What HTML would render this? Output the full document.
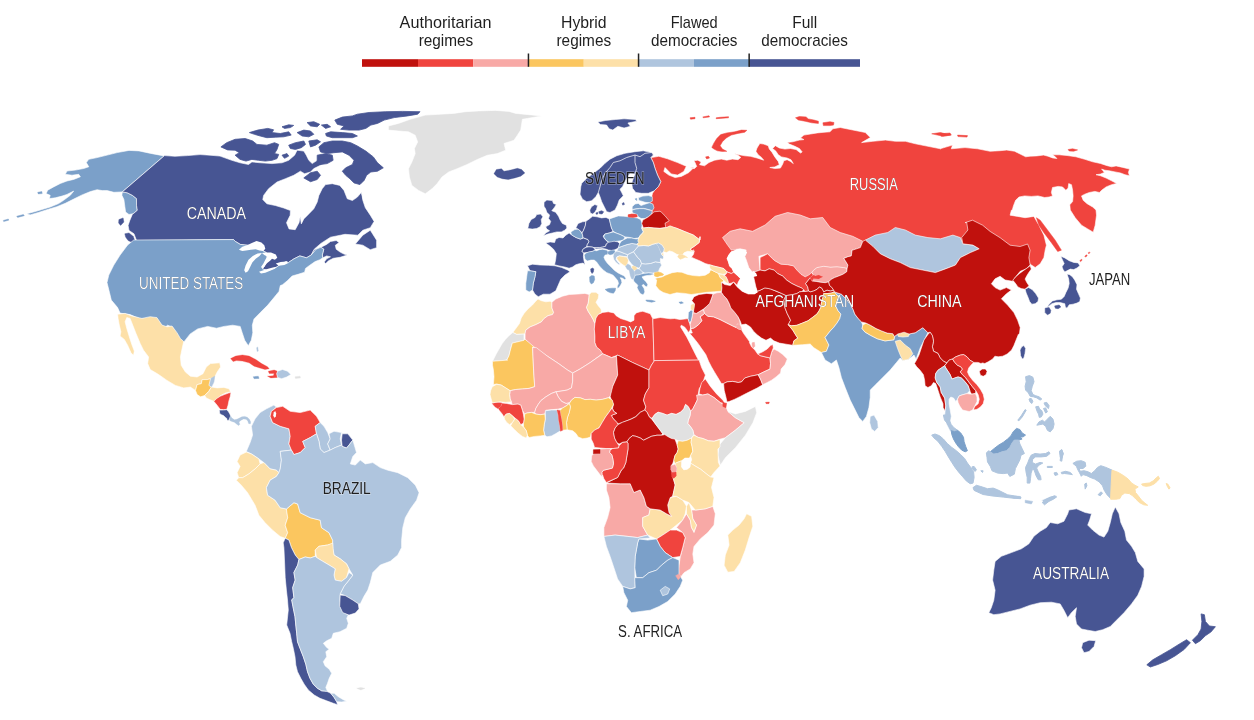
<!DOCTYPE html>
<html lang="en"><head><meta charset="utf-8"><title>Democracy Index map</title>
<style>
html,body{margin:0;padding:0;background:#fff;}
body{width:1254px;height:720px;overflow:hidden;font-family:"Liberation Sans",sans-serif;}
svg{display:block}
.lg text{font-family:"Liberation Sans",sans-serif;font-size:17px;fill:#1f1f1f}
.lw text{font-family:"Liberation Sans",sans-serif;font-size:16px;fill:#fff}.lw{filter:drop-shadow(.4px .7px .7px rgba(0,0,0,.75))}
.lb text{font-family:"Liberation Sans",sans-serif;font-size:16px;fill:#1f1f1f;paint-order:stroke;stroke:#fff;stroke-opacity:.35;stroke-width:1.4px}
</style></head><body>
<svg width="1254" height="720" viewBox="0 0 1254 720">
<rect width="1254" height="720" fill="#fff"/>

<g class="c" stroke="#fff" stroke-width=".6" stroke-linejoin="round">
<path fill="#f0443e" d="M651.7,152.5L653.3,155L650.8,157.5L653.3,162.5L655,168.3L657.5,175L660.8,181.7L658.3,186.7L654.2,190.8L652.5,193.3L651.7,196.7L650,198.3L649.2,203.3L650,207.5L648.3,213.3L656.7,213.3L661.7,214.2L663.3,216.7L666.7,220.8L663.3,223.3L664.2,228.3L670,226.7L676.7,228.3L685,231.7L693.3,235L700,240L700,236.7L699.2,242.5L695,245.8L690,249.2L693.3,251.7L694.3,250.9L693.5,254.3L691.4,257.2L695.2,258.9L700.2,261L705.2,263.5L709.4,264.7L713.6,266L718.6,267.2L723.7,268.5L727,271.9L731.2,273.5L733.7,272.3L732,268.5L729.5,266L728.3,261.8L727,258.5L728.7,255.1L731.2,251.8L735.4,250.5L740.1,243.8L790.2,237.6L840.2,250.1L890.3,250.1L940.4,255.1L977.9,237.6L990.1,240.2L1025.1,260.2L1031.4,265L1035.2,267.5L1040.2,263.8L1043.9,257.5L1045.2,250L1046.4,245.2L1043.9,235.2L1038.9,225.2L1033.9,216.4L1025.1,217.7L1017.6,216.4L1010.1,215.2L1011.4,210.2L1012.3,210L1013.4,205.9L1015.6,200.3L1019,197L1024.6,195.9L1031.3,196.4L1038,195.9L1044.7,197.5L1049.1,197L1052.5,195.9L1051.4,192.5L1052.5,187.5L1058.1,186.4L1062.5,186.9L1065.9,190.3L1068.1,188.1L1068.7,183.6L1071.5,184.7L1072.6,190.3L1073.1,195.9L1072.6,201.5L1069.8,204.8L1070.3,210L1075.2,217.7L1081.5,225.2L1087.7,228.9L1093.2,232.2L1095.2,225.2L1096.5,215.2L1096,210L1092.7,207L1087.1,203.7L1083.2,200.3L1081.5,195.9L1084.8,194.2L1089.3,192.5L1094.9,191.4L1099.4,192.5L1101.6,190.3L1106.1,186.9L1111.6,184.7L1116.7,183.4L1111.6,180.8L1106.1,178L1100.5,175.8L1096,174.7L1100.5,174.1L1104.4,172.4L1101.6,169.1L1104.9,170.2L1109.4,170.8L1115,171.9L1120.6,173L1125,174.7L1129.5,175.8L1128.4,172.4L1129.5,169.1L1122.8,167.4L1116.1,165.9L1111.6,166.8L1107.2,165.7L1100.5,163.5L1092.7,161.8L1084.8,159.3L1075.9,156.8L1067,155.5L1059.2,154.8L1052.5,154.8L1054.7,156.2L1056.9,158.5L1052.5,157.9L1048,156.2L1043.5,155.1L1036.8,155.9L1030.1,156.2L1025.7,156.8L1020.1,154L1014.5,151.2L1006.7,150.1L1000,150.7L990.1,151.3L977.6,148.8L965,147.6L951.3,148.8L952.5,145.1L940,148.8L940.5,148.8L927.9,146.3L915.4,143.8L905.4,141.3L895.4,141.3L885.4,140.1L872.8,141.3L861.6,142.6L870.3,137.6L865.3,132.5L852.8,130L840.3,127.5L832.8,128.8L830,131.8L824,132.3L817.3,132.9L810.6,134L803.9,135.1L800.5,137.9L803.9,139.6L799.4,140.1L792.7,141.8L787.1,142.4L789.4,144.1L794.9,146.3L799.4,148.5L802.2,151.9L800.5,153L796.1,149.6L790.5,148.5L784.9,149.1L779.3,148L775.4,145.7L772.6,148.5L776,151.3L778.2,154.7L781.5,156.9L787.1,158L791,159.7L793.3,163.6L790.5,161.4L787.1,159.7L783.8,160.8L782.7,164.1L780.4,168.1L774.8,168.6L769.8,167.5L774.8,166.9L779.3,164.7L778.2,161.4L774.8,156.9L772.1,152.4L769.3,149.1L768.2,145.7L763.7,144.1L759.8,143.5L757,148L755.9,151.3L758.1,154.7L761.5,157.4L763.7,160.2L757,158L750.3,156.3L744.7,155.8L739.1,154.7L734.1,153.5L738,155.2L740.8,157.4L738,159.7L732.4,159.1L726.8,160.2L721.3,159.1L714.6,160.2L709,162.5L704.5,165.8L699.5,164.7L701.2,161.9L697.8,160.2L693.9,160.8L695,162.5L696.7,166.4L694.5,168.6L690,168.1L693.8,167.6L688.8,172.6L681.3,176.4L675.1,177.6L668.8,175.1L663.8,171.4L665,167.6L671.3,173.9L677.6,175.1L683.8,171.4L686.3,166.3L677.6,162.6L667.5,158.8L658.8,156.3L651.3,157.6Z"/>
<path fill="#f0443e" stroke="#f0443e" stroke-width="0.5" d="M711.8,147.4L714,142.9L716.8,138.5L720.7,134.6L726.8,132.9L734.7,131.8L741.4,130.1L746.9,130.3L744.7,132.3L738,133.4L731.3,135.1L726.3,137.9L722.4,141.8L720.1,145.7L722.4,149.1L726.8,151.3L722.4,151.5L717.4,150.8L714,149.1Z"/>
<path fill="#f0443e" stroke="#f0443e" stroke-width="0.5" d="M795.5,117.8L799.4,116.5L806.1,116.9L808.3,118.9L813.9,120L818.4,121.2L818.4,123.4L811.7,122.8L805,121.2L798.3,120Z"/>
<path fill="#f0443e" stroke="#f0443e" stroke-width="0.5" d="M822.9,122.8L830,121.7L834,122.5L833.5,125.1L830,125.6L823.4,125.6Z"/>
<path fill="#f0443e" stroke="#f0443e" stroke-width="0.5" d="M931.7,133.8L940.5,132.5L950.5,135.1L943,136.3Z"/>
<path fill="#f0443e" stroke="#f0443e" stroke-width="0.5" d="M702.8,116.9L709,115.8L709.5,116.9L703.4,117.8Z"/>
<path fill="#f0443e" stroke="#f0443e" stroke-width="0.5" d="M716.2,117.8L720.1,117.3L728.5,116.7L728.5,117.8L720.1,118.4L716.2,118.7Z"/>
<path fill="#f0443e" stroke="#f0443e" stroke-width="0.5" d="M1036.4,217.7L1040.2,220.2L1047.7,230.2L1055.2,240.2L1061.4,250.2L1057.7,251.5L1051.4,242.7L1043.9,232.7L1038.9,225.2Z"/>
<path fill="#f0443e" stroke="#f0443e" stroke-width="0.5" d="M940,133.8L950,133L951.3,135.1L941.3,136.3Z"/>
<path fill="#f0443e" stroke="#f0443e" stroke-width="0.5" d="M957.5,135.1L967.5,135.6L967,137.1L958,136.6Z"/>
<path fill="#f0443e" stroke="#f0443e" stroke-width="0.5" d="M1068.1,149.5L1072.6,148.8L1077.6,149.9L1073.7,151.2L1069.2,151Z"/>
<path fill="#f0443e" stroke="#f0443e" stroke-width="0.5" d="M628.3,214.7L635,214.2L637.5,215.8L635,217L629.2,216.7Z"/>
<path fill="#f0443e" stroke="#f0443e" stroke-width="0.5" d="M690,117.8L695,117.3L695,118.7L690.6,119.2Z"/>
<path fill="#f0443e" stroke="#f0443e" stroke-width="0.5" d="M705.6,156.9L708.4,156.3L709.5,158L706.7,158.9Z"/>
<path fill="#7ba0c9" d="M164.1,155.9L150.7,153.4L139,150.9L129,150.4L117.2,152.6L107.2,155.1L97.1,157.6L88.8,159.3L86.3,162.6L88.8,166.8L83.7,168.5L75.4,170.1L67,171L65.3,174.3L72,175.2L78.7,174.3L80.4,176.8L73.7,179.4L67,181L60.3,183.5L53.6,186.9L47.7,190.2L46.1,193.6L50.2,195.3L49.4,198.6L55.3,197.8L62,196.1L67,194.4L73.7,191.1L70.3,195.3L63.6,200.3L58.6,203.6L50.2,207L41.9,209.5L33.5,212L26.8,213.7L30.1,214.9L38.5,212.5L48.6,209.2L56.9,206.7L65.3,203.3L73.7,199.1L82.1,194.9L90.4,191.6L97.1,189.7L102.2,190.6L107.2,190.6L113.9,192.3L122.3,191.9Z"/>
<path fill="#7ba0c9" d="M122.3,191.9L127.3,192.8L132.3,195.3L136.5,198.6L136.5,205.3L137.3,210.3L133.1,213.7L129,214.5L125.6,212L124.8,206.2L123.9,199.5L121.9,195.3Z"/>
<path fill="#7ba0c9" stroke="#7ba0c9" stroke-width="0.4" d="M16.7,216.2L23.4,214.5L24.3,215.7L17.6,217.4Z"/>
<path fill="#7ba0c9" stroke="#7ba0c9" stroke-width="0.4" d="M3.3,220.4L8.4,219L8.7,220.2L3.7,221.6Z"/>
<path fill="#7ba0c9" stroke="#7ba0c9" stroke-width="0.4" d="M37.7,192.3L41.9,191.6L42.2,193.6L38.2,193.9Z"/>
<path fill="#475593" d="M164.1,155.9L122.3,191.9L127.3,192.8L132.3,195.3L136.5,198.6L136.5,205.3L137.3,210.3L132.3,214.5L129.8,220.4L128.1,225.4L129,230.4L134,233.8L136.5,240.5L225,239.6L233.6,239.6L235.5,241.5L240.3,244.4L256.6,246.3L263.4,251.1L266.2,252.5L267.2,258.8L264.3,266.4L262.4,268.8L268.1,270.7L276.8,266.9L281.6,263.6L286.4,261.6L288.3,262.6L294,258.8L299.8,255.9L306.5,257.8L311.3,254.9L314.2,249.2L320.9,243.4L330.5,237.2L345,234.3L357.8,235.2L362.8,230.2L370.3,227.7L374.1,221.4L370.3,215.2L365.3,207.7L362.8,200.2L361.6,192.6L363.2,198.8L361.6,192.1L357.4,197.1L352.4,200.5L347.3,198.8L344,190.4L339.8,185.4L332.3,183.7L325.6,184.6L322.2,188.7L318.9,195.4L317.2,202.1L313.8,208.8L308.8,213.9L303.8,218.9L301.3,223.9L300.2,216.4L299,222.7L295.2,229.7L289,228.9L286.5,222.7L290.2,215.2L290.4,210.5L283.7,208L275.3,205.5L266.9,203.8L262.8,199.6L263.6,195.4L268.6,188.7L277,182L285.4,178.7L293.7,175.3L300.4,171.2L304.6,173.7L310.5,172L313.8,168.6L320.5,165.3L327.2,161.1L331.4,156.9L325.6,156.1L317.2,160.3L312.2,163.6L308.8,160.3L306.3,155.2L303.8,151.1L297.1,150.2L294.6,155.2L288.7,160.3L282,162.8L272,163.6L260.2,162.8L251.9,161.9L248.5,164.5L240.1,162.8L231.8,160.3L220,156.1L210,155.2L200.1,154.6L187.6,155.6L175,156.3L164.5,155.6Z"/>
<path fill="#475593" d="M355.3,244L362.8,235.2L370.3,230.2L376.6,240.2L376.6,247.7L370.3,249.7L362.8,245.2Z"/>
<path fill="#475593" d="M311.3,255.1L314.2,249.7L320.9,247.3L326.6,244.4L330.5,241.5L336.2,240.5L339.1,242.5L335.3,245.3L336.2,249.2L340.1,252.1L343.9,254L347.2,255.1L340.1,257.3L333.3,258.3L328.5,260.7L325.7,263.6L324.2,262.1L326.6,258.8L330.5,256.8L326.6,255.9L322.8,257.8L322.3,254.9L323.8,249.2L320.9,247.4L316.1,249.5Z"/>
<path fill="#475593" stroke="#475593" stroke-width="0.8" d="M220.9,146.9L226.7,142.7L235.1,139.3L245.2,138.5L252.7,141L256.9,144.4L266.9,145.2L274.5,142.7L278.7,144.4L277,149.4L274.5,153.6L278.7,154.4L277,158.6L272,160.3L265.3,161.1L258.6,160.3L251.9,159.4L246,161.1L240.1,159.4L235.1,155.2L239.3,152.7L235.1,150.2L227.6,149.9Z"/>
<path fill="#475593" stroke="#475593" stroke-width="0.8" d="M249.4,132.6L257.7,130.1L267.8,128.4L273.6,129.8L272,132.6L280.3,133.5L288.7,131.8L291.2,135.1L283.7,136.8L275.3,137.2L266.9,137.7L260.2,136L254.4,134.3Z"/>
<path fill="#475593" stroke="#475593" stroke-width="0.8" d="M282,126.8L288.7,124.8L293.7,125.4L290.4,127.6L284.5,128.4Z"/>
<path fill="#475593" stroke="#475593" stroke-width="0.8" d="M297.1,132.6L303.8,130.1L310.5,131L313.8,134.3L308.8,136.8L302.1,136Z"/>
<path fill="#475593" stroke="#475593" stroke-width="0.8" d="M307.1,122.6L313.8,121.7L319.7,124.3L317.2,126.8L310.5,125.9Z"/>
<path fill="#475593" stroke="#475593" stroke-width="0.8" d="M321.4,125.1L327.2,124.3L330.6,126.8L325.6,128.4Z"/>
<path fill="#475593" stroke="#475593" stroke-width="0.8" d="M334.8,120.1L342.3,117.1L352.4,115.9L357.4,114.2L369.1,112.5L385.8,111.7L402.6,111.4L420,111.7L417.7,114.2L407.6,115.9L394.2,117.6L384.2,120.1L377.5,123.4L370.8,125.1L365.8,128.4L359.1,130.1L349,130.1L340.6,129.3L344,125.9L337.3,124.3Z"/>
<path fill="#475593" stroke="#475593" stroke-width="0.8" d="M325.6,133.5L330.6,131.8L342.3,132.6L352.4,133.5L357.4,136L352.4,137.7L342.3,137.7L332.3,137.7L326.4,136Z"/>
<path fill="#475593" stroke="#475593" stroke-width="0.8" d="M288.7,145.2L295.4,142.7L303.8,141L305.5,144.4L301.3,147.7L295.4,149.4L290.4,148.5Z"/>
<path fill="#475593" stroke="#475593" stroke-width="0.8" d="M308.8,141L317.2,139.8L320.5,141.8L315.5,145.2L310.5,146.9Z"/>
<path fill="#475593" stroke="#475593" stroke-width="0.8" d="M318.9,146.9L323.9,142.7L332.3,141L342.3,141L350.7,142.7L357.4,146L365.8,151.1L373.3,156.9L377.5,162.8L383.3,167.8L377.5,171.2L370.8,172L366.6,175.3L364.1,180.4L359.9,184.6L354,182.9L349.8,178.7L345.7,175.3L342.3,171.2L345.7,167.8L352.4,164.5L354,160.3L349,155.2L342.3,151.9L333.9,152.7L327.2,153.6L320.5,151.9Z"/>
<path fill="#475593" stroke="#475593" stroke-width="0.8" d="M303.8,177.9L310.5,172.8L317.2,171.2L320.5,175.3L317.2,179.5L310.5,181.7Z"/>
<path fill="#475593" stroke="#475593" stroke-width="0.8" d="M282,155.2L287,153.6L288.7,156.1L284.5,158.3Z"/>
<path fill="#475593" stroke="#475593" stroke-width="0.8" d="M317.2,155.2L325.6,153.6L332.3,155.2L333.1,160.3L327.2,163.6L320.5,164.5L317.2,161.1Z"/>
<path fill="#475593" stroke="#475593" stroke-width="0.4" d="M124.8,233.8L129,232.9L133.1,236.3L134.8,240.5L132.3,242.5L128.1,240.5L125.6,237.1Z"/>
<path fill="#475593" stroke="#475593" stroke-width="0.4" d="M118.9,219.6L123.1,217.9L123.9,222.1L120.6,225.4L118.6,222.9Z"/>
<path fill="#7ba0c9" d="M133.8,240L127.6,245L120.1,255.1L113.8,265.1L108.8,275.1L107,282.6L109.5,292.6L111.3,300.1L117.6,307.6L120.1,313.1L130.1,314.6L140.1,318.9L151.4,318.1L155.1,322.7L163.9,328.2L167.6,325.2L172.6,327.2L177.6,337.7L183.9,341.9L190.2,333.9L197.7,328.9L207.7,326.4L216.5,328.2L224,326.4L232.7,325.2L240.2,326.4L242.2,332.7L244.7,340.2L248.3,345.7L251.3,340.2L252.8,332.7L252.3,325.2L254,318.9L260.3,312.6L267.8,305.1L274,297.6L279,291.4L280.3,285.6L282.5,284.7L287.3,280.8L292.1,276L298.8,274.1L304.6,272.2L305.5,268.4L309.4,265.5L315.1,261.6L319.9,259.7L322.8,257.8L322.3,254.9L323.8,249.2L320.9,247.3L316.1,249.2L311.3,254.9L306.5,257.8L299.8,255.9L294,258.8L288.3,262.6L286.4,261.6L281.6,263.6L276.8,266.9L268.1,270.7L262.4,268.8L264.3,266.4L267.2,258.8L266.2,252.5L263.4,251.1L256.6,246.3L240.3,244.4L235.5,241.5L233.6,239.6L225,239.6Z"/>
<path fill="#ffffff" stroke="none" d="M238.9,249.7L242.3,246.8L247.1,245.3L251.8,242.9L256.6,241L261.4,242.5L264.3,245.3L265.3,248.7L263.4,251.1L259.5,250.6L255.7,249.2L250.9,249.7L246.1,250.6L242.3,251.1Z"/>
<path fill="#ffffff" stroke="none" d="M244.2,270.3L245.6,265.5L248.5,259.7L252.8,255.9L257.6,253.5L261.9,253L259.5,255.9L255.7,258.8L252.3,262.6L249.9,267.4L248,271.2L245.6,272.7Z"/>
<path fill="#ffffff" stroke="none" d="M261.9,253L266.2,252.5L271,252.5L275.8,254.4L277.3,257.8L274.9,259.7L272,258.8L270.1,260.7L267.2,263.1L264.3,266.4L262.4,268.4L261,266.9L263.4,263.6L265.3,259.7L267.2,256.4L264.3,254.9Z"/>
<path fill="#ffffff" stroke="none" d="M259,271.7L263.4,270.3L268.1,268.8L272.9,267.4L276.8,266.9L274.9,268.8L270.1,270.7L265.3,272.7L261,273.6Z"/>
<path fill="#ffffff" stroke="none" d="M275.8,263.6L280.6,262.1L286.4,261.6L288.3,263.1L284.4,265L278.7,265.7Z"/>
<path fill="#fde0a8" d="M117.6,314.2L125.1,313.4L131.8,315.9L141.9,318.4L150.2,316.7L156.9,317.6L162,325.1L167,326.8L172,326L177,332.7L180.4,338.5L183.7,341.5L182.1,348.6L180.4,356.9L181.2,365.3L185.4,372L190.4,376.2L197.1,377L203,373.7L206.3,367L210.5,363.6L219.7,362.8L220.6,367L217.2,372L214.7,377L210.5,378.7L207.2,379.6L202.2,379.6L201.3,383.7L197.1,384.6L195.5,390.4L190.4,387.1L183.7,387.9L175.4,385.4L167,380.4L158.6,374.5L150.2,369.5L147.7,363.6L148.6,356.9L143.5,350.2L140.2,343.5L136,333.5L132.7,325.1L130.1,318.4L126.8,317.6L125.1,321.8L126.8,328.5L129.3,336.8L131.8,344.4L134.3,351.1L133.5,355.3L131,352.8L127.6,345.2L124.3,339.4L120.1,336L120.9,331.8L119.3,325.1L118.1,318.4Z"/>
<path fill="#afc5de" stroke="#afc5de" stroke-width=".5" d="M210.5,378.7L214.7,376.2L213.9,382.1L211.4,387.1L208.9,385.4Z"/>
<path fill="#fbc65f" d="M195.5,390.4L197.1,384.6L201.3,383.7L202.2,379.6L207.2,379.6L210.5,378.7L208.9,385.4L211.4,387.1L208.9,391.3L204.7,395.5L200.5,396.8L197.1,394.6Z"/>
<path fill="#fde0a8" d="M204.7,395.5L208.9,391.3L211.4,387.1L217.2,387.9L223.9,387.4L229,388.8L230.6,391.8L225.6,392.9L220.6,395.5L217.2,398.8L213.9,401.3L209.7,399.6L206.3,398Z"/>
<path fill="#f0443e" stroke="#f0443e" stroke-width="0.3" d="M230.6,358.6L235.7,356.1L242.4,354.9L249.1,356.1L255.8,359.5L261.6,363.6L267.5,366.7L269.2,368.7L265,369.5L259.1,367.8L254.1,366.2L249.1,362.8L242.4,361.1L236.5,360.6L233.1,361.6Z"/>
<path fill="#f0443e" stroke="#f0443e" stroke-width="0.3" d="M268.3,371.2L274.2,370L277.5,371.2L276.7,373.7L277.5,377.4L270.8,377.9L267.5,376.2L273.3,375.7L274.2,373.4L269.2,373.4Z"/>
<path fill="#afc5de" d="M277.5,371.2L282.5,369.5L287.6,371.2L290.9,374.5L286.7,377L281.7,378.7L277.5,377.4L276.7,373.7Z"/>
<path fill="#7ba0c9" stroke="#7ba0c9" stroke-width="0.3" d="M253.2,376.7L258.3,376.2L259.1,378.4L254.1,378.7Z"/>
<path fill="#e1e1e1" stroke="#e1e1e1" stroke-width="0.3" d="M295.1,376.7L300.1,376.2L300.5,377.9L295.4,378.4Z"/>
<path fill="#afc5de" stroke="#afc5de" stroke-width="0.3" d="M256.6,347.7L257.8,346.9L258.3,351.1L257.1,351.6Z"/>
<path fill="#f0443e" d="M213.8,401.3L216.8,398.4L220.1,396.3L224.3,394.6L228.5,393L231,392.5L230.2,396.7L228.9,400.9L228.1,405.1L226.8,409.3L223.5,409.7L220.1,409.3L218,406.4L215.9,403.8Z"/>
<path fill="#475593" d="M219.3,410.1L223.5,410L226.8,409.7L228.5,411.8L229.8,413.9L230.6,416L229.8,418.1L228.9,420.2L227.2,420.6L226.8,418.5L225.2,417.2L223.5,415.6L221.4,414.7L219.7,413.5Z"/>
<path fill="#afc5de" stroke="#afc5de" stroke-width="0.3" d="M230.6,416L231.9,418.1L234.4,419.8L236.9,419.3L239.4,418.1L241.9,416.8L244.8,416.4L247.3,417.2L249.4,419.3L250.7,421.9L250.3,423.9L248.6,423.5L247.8,421L246.1,419.3L243.6,418.9L241.1,420.2L239,421.9L239.8,424.4L238.6,425.6L236.5,423.9L234.4,422.3L231.9,421.4L229.8,420.6L229.8,418.1Z"/>
<path fill="#afc5de" d="M255.1,418.8L260.1,412.6L266.4,408.8L273.9,405.1L276.4,407.1L271.4,411.3L270.1,416.3L272.6,422.6L280.2,426.3L288.9,428.8L290.2,436.3L288.9,443.9L291.4,450.1L280.2,451.4L281.4,460.1L280.2,468.9L278.9,472.7L276.4,470.2L270.1,468.9L263.9,462.6L258.9,458.9L251.4,453.9L246.3,451.4L250.1,442.6L252.6,435.1L251.4,426.3Z"/>
<path fill="#f0443e" d="M270.1,416.3L271.4,411.3L276.4,407.6L282.7,406.3L290.2,411.3L300.2,412.6L310.2,410.1L316.5,416.3L320.2,422.6L315.2,426.3L316.5,433.8L310.2,437.6L302.7,441.4L305.2,447.6L300.2,452.6L293.9,454.6L291.4,450.1L288.9,443.9L290.2,436.3L288.9,428.8L280.2,426.3L272.6,422.6Z"/>
<path fill="#ffffff" stroke="none" d="M273.7,412.6L275.2,411L276.2,413.5L275.8,416.8L274.1,417.7L273.3,415.2Z"/>
<path fill="#afc5de" d="M320.2,422.6L324,426.3L327.7,432.6L330.2,438.9L327.7,443.9L330.2,450.1L324,452.6L320.2,448.9L319,441.4L316.5,433.8L315.2,426.3Z"/>
<path fill="#afc5de" d="M329,433.8L334,431.3L341.5,432.6L340.2,438.9L341.5,445.1L335.2,447.6L330.2,450.1L327.7,443.9L330.2,438.9Z"/>
<path fill="#475593" d="M342.2,433.8L347.8,433.8L352.8,440.1L349,445.1L346.5,448.1L342.2,446.4L341.5,440.1Z"/>
<path fill="#fde0a8" d="M240.1,455.1L246.3,452.1L251.4,453.9L258.9,458.9L260.1,463.9L255.1,468.9L248.9,473.9L242.6,477.7L238.8,477.7L237.1,472.7L240.1,466.4L237.1,461.4Z"/>
<path fill="#fde0a8" d="M238.8,477.7L242.6,477.7L248.9,473.9L255.1,468.9L260.1,463.9L263.9,462.6L270.1,468.9L276.4,470.2L278.9,472.7L276.4,476.4L270.1,480.2L266.4,487.7L267.6,495.2L275.1,500.2L280.2,507.7L286.4,509L287.7,517.7L285.2,525.2L287.7,532.7L285.2,538.3L280.2,536.5L272.6,530.2L265.1,522.7L258.9,515.2L255.1,505.2L247.6,492.7L241.3,485.2L236.3,480.2Z"/>
<path fill="#fbc65f" d="M286.4,509L293.9,502.7L297.7,504L300.2,512.7L310.2,517.7L320.2,520.2L321.5,527.7L329,532.7L332.7,540.3L332.7,543.8L327.7,545L319,546.3L315.2,550L315.2,556.3L310.2,558L305.2,557L298.9,559.5L295.2,555L291.4,547.5L288.9,540L285.2,538.3L287.7,532.7L285.2,525.2L287.7,517.7Z"/>
<path fill="#afc5de" d="M291.4,450.1L293.9,454.6L300.2,452.6L305.2,447.6L302.7,441.4L310.2,437.6L316.5,433.8L319,441.4L320.2,448.9L324,452.6L330.2,450.1L335.2,447.6L341.5,445.1L342.2,446.4L346.5,448.1L349,445.1L352.8,440.1L356.5,452.6L352.8,456.4L350.3,463.9L355.3,465.1L360.3,460.1L365.3,463.9L372.8,462.6L380.3,467.6L387.8,470.2L397.8,472.7L407.8,477.7L415.4,485.2L419.1,492.7L416.6,500.2L410.3,509L405.3,517.7L402.8,527.7L401.6,540.3L401.6,547.5L397.8,555L390.3,561.3L380.3,565L372.8,572.5L370.3,582.6L367.8,590.1L364,596.3L360.3,603.8L358.3,603.8L352.8,600.1L345.2,595.6L340.2,593.8L344,586.3L349,580.1L352.8,575.1L349,568.8L346.5,563.8L340.2,558.8L334,555L332.7,548.8L332.7,543.8L332.7,540.3L329,532.7L321.5,527.7L320.2,520.2L310.2,517.7L300.2,512.7L297.7,504L293.9,502.7L286.4,509L280.2,507.7L275.1,500.2L267.6,495.2L266.4,487.7L270.1,480.2L276.4,476.4L278.9,472.7L280.2,468.9L281.4,460.1L280.2,451.4Z"/>
<path fill="#fde0a8" d="M315.2,550L319,546.3L327.7,545L332.7,543L333.2,548.8L334,555L340.2,558.8L346.5,563.8L349,568.8L346.5,577.6L341.5,581.3L335.2,580.1L334,575.1L335.2,568.8L329,565L322.7,561.3L316.5,557.5Z"/>
<path fill="#475593" d="M285.2,538.3L283.2,542.8L283.9,547.5L284.7,565L285.2,577.6L286.4,590.1L287.5,600L288.3,610L286.7,625L290,633.3L291.7,641.7L293.3,648.3L295,656.7L295.8,665L297.5,671.7L300.8,678.3L304.2,684.2L308.3,690L314.2,695L320,698.3L326.7,700.8L333.3,703.3L337.5,704.7L336.7,701.7L334.2,697.5L330.8,693.3L326.7,691.3L321.7,690.8L317.5,688.3L313.3,684.2L310,678.3L307.5,671.7L305.8,664.2L303.3,656.7L300,648.3L297.5,641.7L296.7,633.3L295.8,625L295,616.7L293.3,608.3L291.7,600L293.9,597.6L292.7,587.6L295.2,580.1L293.9,572.5L297.7,565L298.9,559.5L295.2,555L291.4,547.5L288.9,540Z"/>
<path fill="#afc5de" d="M298.9,559.5L305.2,557L310.2,558L315.2,556.3L316.5,557.5L322.7,561.3L329,565L335.2,568.8L334,575.1L335.2,580.1L341.5,581.3L346.5,577.6L349,572.5L352.8,575.1L349,580.1L344,586.3L340.2,593.8L340,600L340,606.7L343.3,611.7L348.3,615L346.7,618.3L348.3,623.3L346.7,628.3L340,631.7L333.3,633.3L331.7,638.3L326.7,640.8L323.3,643.3L326.7,647.5L329.2,649.2L325.8,651.7L326.7,656.7L323.3,661.7L325,665.8L329.2,669.2L331.7,673.3L329.2,678.3L327.5,683.3L325.8,687.5L327.5,691.3L326.7,691.3L321.7,690.8L317.5,688.3L313.3,684.2L310,678.3L307.5,671.7L305.8,664.2L303.3,656.7L300,648.3L297.5,641.7L296.7,633.3L295.8,625L295,616.7L293.3,608.3L291.7,600L293.9,597.6L292.7,587.6L295.2,580.1L293.9,572.5L297.7,565Z"/>
<path fill="#afc5de" d="M330.8,693.3L334.2,697.5L336.7,701.7L341.7,702L346.7,701.3L343.3,699.7L338.3,696.7L334.2,693.3Z"/>
<path fill="#e1e1e1" stroke="#e1e1e1" stroke-width="0.3" d="M356.7,688.3L360.8,687.5L365,688.3L360.8,690Z"/>
<path fill="#475593" d="M340.2,595.1L345.2,595.6L352.8,600.1L358.3,603.8L359,608.9L355.3,613.1L349,615.1L342.7,612.6L339.7,606.3Z"/>
<path fill="#e1e1e1" d="M515.7,113.4L541.7,115.9L522.4,119.3L520.7,130.1L517.4,135.2L514,140.2L504,143.5L505.7,150.2L497.3,153.6L487.2,155.3L477.2,159.5L467.1,164.5L457.1,168.7L448.7,172L442,177L437,183.7L432,188.8L425.3,193.8L418.6,190.4L411.9,185.4L409.4,177L408.5,168.7L411.9,162L415.2,153.6L414.4,148.6L417.7,141.9L415.2,135.2L408.5,131.8L398.5,131L388.4,130.1L388.4,126L398.5,123.4L410.2,119.3L425.3,115.1L440.3,114.2L453.7,113.4L465.5,111.7L478.9,110.9L495.6,110.4L509,111.4Z"/>
<path fill="#475593" stroke="#475593" stroke-width="0.3" d="M493.9,173.7L496.4,169.5L501.5,168.7L504,171.2L510.7,170L517.4,168.3L521.6,169.5L524.9,172.9L520.7,176.2L514.9,177.9L508.2,179.6L502.3,178.7L497.3,177Z"/>
<path fill="#475593" d="M597.8,122L605.3,120.5L615.4,119.5L624.1,118.8L635.4,119.5L636.6,121.3L627.9,123L630.4,126.3L624.1,128L617.9,126.3L612.8,130L609.1,128.8L606.6,125L600.3,124.5Z"/>
<path fill="#475593" d="M580.8,186.7L581.7,183.3L586.7,178.3L593.3,173.3L600,168.3L605,163.3L610,159.2L616.7,155.8L625,153.3L635,151.7L643.3,150.8L651.7,152.5L653.3,155L650.8,157.5L653.3,162.5L655,168.3L657.5,175L660.8,181.7L658.3,186.7L654.2,190.8L648.3,193.3L641.7,193.3L635.8,192.5L632.5,188.3L631.7,183.3L633.3,178.3L635,174.2L630,173.3L626.7,178.3L624.2,183.3L622.5,186.7L620,189.2L621.7,192.5L623.3,195.8L619.2,200L617.5,205L615,210L610,212.5L606.7,211.7L604.2,206.7L601.7,201.7L600,196.7L598.3,192.5L595.8,196.7L591.7,200.8L586.7,201.7L582.5,199.2L580,194.2Z"/>
<path fill="#475593" d="M527.5,265.8L532.5,264.2L540,265L548.3,265.3L555,265.8L561.7,267.5L567.5,270L570,271.7L565,275L560.8,279.2L558.3,285L555.8,290.8L550,294.2L543.3,294.2L538.3,296.7L535,294.2L532.5,290L533.3,283.3L535,276.7L535.8,271.7L530,270.8Z"/>
<path fill="#7ba0c9" d="M527.5,270.8L530,270.8L535.8,271.7L535,276.7L533.3,283.3L532.5,290L529.2,292L525.8,290L525.8,283.3L526.7,276.7Z"/>
<path fill="#475593" d="M544,202.3L546.8,200L552.4,200.6L553.5,203.4L556.3,204.5L554.1,207.9L551.8,210.7L555.7,212.3L558.5,216.2L560.2,220.1L562.4,223.5L566.3,225.2L566.9,228L564.7,230.2L561.3,231.9L556.8,231.9L552.4,233L547.9,234.1L543.4,235.8L545.7,233L549.6,230.8L546.8,229.1L545.7,226.8L549.6,224.6L550.7,221.3L548.5,218.5L549.6,215.1L546.8,212.3L545.7,209L544,206.2Z"/>
<path fill="#475593" d="M527.8,228.5L528.9,223.5L531.2,219.6L535.1,217.4L536.7,214.6L540.7,214L542.9,216.8L541.2,219.6L541.8,223.5L540.1,226.8L536.7,228.5L532.3,229.1Z"/>
<path fill="#475593" d="M545.7,243L550.1,241.9L554.6,242.5L555.7,239.1L559.1,237.4L563,238L565.8,235.2L569.1,233L571.4,234.7L575.8,237.4L580.3,239.1L583.4,237.9L587.9,239.6L589,241.7L587.3,244.5L586.8,246.5L583.4,248.9L582,251.2L583.6,253.2L583.4,256.8L584,260.7L585.1,265L583.1,263.1L579.2,263.7L575.8,264.8L572.5,267L569.1,268.2L564.7,267L559.1,265.9L554.6,264.8L555.7,259.2L556.3,253.6L553.5,249.2L549.6,245.8Z"/>
<path fill="#7ba0c9" d="M570.8,231.9L574.7,229.6L578.1,229.1L580.8,231.3L582.5,234.7L583.1,238L580.3,239.1L575.8,237.4L571.4,234.7Z"/>
<path fill="#475593" d="M575.8,228L578.1,223.5L582.5,221.8L585.9,221.3L585.3,225.7L583.6,230.2L582,233L580.8,231.3L578.1,229.1Z"/>
<path fill="#475593" d="M585.9,221.3L589.2,219L592.6,216.2L597,216.8L601.5,217.9L606,217.4L609.3,219L610.4,223.5L611.5,228L613.2,231.3L609.3,233L604.8,234.1L603.2,236.1L604.6,238.9L606.9,241.1L608.5,242.2L606.3,243.9L605.7,246.2L603,247.1L599.6,247.6L596.3,247.8L594,247.6L592.3,247.1L589,246.7L586.8,246.5L587.3,244.5L589,241.7L587.9,239.5L583.4,237.8L583.1,238L582.5,234.7L582,233L583.6,230.2L585.3,225.7Z"/>
<path fill="#475593" d="M589.8,210.1L591.5,206.7L594.8,204.5L597.6,205.6L596.5,209.5L594.8,212.3L592.6,214L590.3,212.9Z"/>
<path fill="#475593" stroke="#475593" stroke-width=".5" d="M598.7,211.8L601.5,210.7L603.7,211.8L602.1,214L599.5,213.7Z"/>
<path fill="#475593" stroke="#475593" stroke-width=".5" d="M595.9,212.9L597.6,212.3L597.9,214L596.3,214.3Z"/>
<path fill="#7ba0c9" d="M609.3,219L613.8,217.4L618.2,215.9L623.8,216.2L628.3,216.8L632.8,217.4L637.2,217.9L640.6,219.6L642.3,223.5L641.7,228L643.4,231.9L641.1,234.7L638.3,238L633.9,238.6L629.4,237.4L624.9,236.9L620.5,234.7L616,233L613.2,231.3L611.5,228L610.4,223.5Z"/>
<path fill="#7ba0c9" d="M603.7,236.9L604.8,234.1L609.3,233L613.2,231.9L616,233L620.5,234.7L624.9,236.9L623.8,239.7L620.5,240.8L616,241.4L612.7,242.5L609.3,242.5L606,240.2Z"/>
<path fill="#7ba0c9" d="M638.3,197.8L642.8,196.1L648.4,195.6L652.3,196.7L652.3,201.2L649.5,202.8L645,202.3L641.7,201.2L638.9,200.6Z"/>
<path fill="#7ba0c9" d="M632.2,206.7L635,204L638.3,203.4L641.1,205.6L643.9,204.5L647.3,203.4L649.5,202.8L652.9,204L654,207.9L652.3,210.7L648.4,209.5L643.9,208.4L639.5,208.4L635,209L632.2,209.5Z"/>
<path fill="#7ba0c9" d="M632.2,210.1L635,209.2L639.5,208.6L643.9,208.6L648.4,209.8L652.3,210.9L651.7,214L648.4,216.8L645,218.5L641.1,218.5L638.3,216.8L637.2,214.6L633.9,213.4L632.2,212.3Z"/>
<path fill="#f0443e" stroke="#f0443e" stroke-width=".5" d="M628.1,215.1L631.6,214L636.7,214.6L637.2,216.8L632.8,217.4L628.3,217Z"/>
<path fill="#c0110d" d="M641.7,223.5L642.8,220.1L645.6,218.5L648.4,216.8L651.7,214L654,211.8L660,211.2L661.7,212.5L665,215.8L669.2,220.8L665,223.3L665.8,227.5L660,228.3L654,228L648.4,227.4L643.4,228Z"/>
<path fill="#475593" stroke="#475593" stroke-width=".5" d="M622.2,203.4L623.8,202.5L624.4,204.5L622.7,205.1Z"/>
<path fill="#7ba0c9" stroke="#7ba0c9" stroke-width=".5" d="M635,198.9L636.7,198.4L636.7,200.6Z"/>
<path fill="#475593" d="M582,251.2L583.1,249L586.2,247.3L589,246.8L592.3,247.1L594.6,248.5L595.1,250.1L593.5,251L591.2,251.8L589,252.4L586.2,252.6L583.7,252.9Z"/>
<path fill="#475593" d="M594,247.6L596.2,247.9L599.6,247.6L602.9,247.1L605.7,246.2L606.3,244L608.5,242.3L611.3,241.8L614.1,241.2L617.5,241.8L619.7,243.4L619.1,246.2L617.5,248.5L614.7,249.8L611.3,250.4L608.5,250.1L605.7,249L602.4,248.5L599,248.7L596.2,249L594.6,248.5Z"/>
<path fill="#7ba0c9" d="M584.2,255.1L585.9,253L589.2,251.8L592.6,251.3L595.1,250.1L595.9,250.9L599.3,249.7L602.6,249.2L606.8,250.1L608.1,251.8L607.6,254.7L605.1,255.1L603.9,257.2L605.1,260.1L607.6,263.5L611,266.8L614.3,270.2L617.7,272.7L621,274.4L624.4,276L625.9,278.6L624.8,279.8L622.3,278.1L620.2,277.7L621.5,280.2L621.9,282.7L620.6,285.3L618.9,287.8L617.3,288.6L617.3,286.1L618.5,283.6L617.7,280.6L615.6,278.1L613.1,275.2L610.2,273.9L606.8,272.7L603.5,270.2L600.9,267.7L598.8,265.2L596.8,262.2L594.2,260.1L590.9,260.1L587.5,261L585,259.3Z"/>
<path fill="#7ba0c9" stroke="#7ba0c9" stroke-width=".5" d="M605.1,289.4L608.5,288.6L612.2,288.2L615.6,288.2L615.2,290.7L613.5,293.2L610.6,292.8L607.6,291.5Z"/>
<path fill="#7ba0c9" stroke="#7ba0c9" stroke-width=".5" d="M589.6,276.9L591.7,275.6L594.2,276L594.7,279.4L593.4,282.7L591.3,284L589.9,281.9Z"/>
<path fill="#475593" stroke="#475593" stroke-width=".5" d="M590.7,268.9L592.6,268.1L593.8,268.9L593.4,271.9L592.1,273.5L590.9,271.4Z"/>
<path fill="#7ba0c9" stroke="#7ba0c9" stroke-width=".5" d="M608.1,251.8L611,250.7L614.3,250.5L615.2,252.2L613.5,253.8L610.2,254.7L608.1,253.8Z"/>
<path fill="#afc5de" d="M613.5,253.8L615.2,252.2L616.9,250.9L620.2,251.8L624.4,253.4L627.7,254.7L627.3,256.8L623.6,256.4L619.4,255.9L616.9,256.8L616,259.3L618.1,262.2L620.2,264.3L618.9,264.7L616,262.6L613.9,259.7L613.1,256.8Z"/>
<path fill="#afc5de" d="M616.9,250.9L618.5,247.6L621.9,246.3L626.9,244.6L631.9,243.4L637,244.2L638.6,245.9L636.1,248.8L633.6,251.8L630.3,253.4L627.7,254.7L624.4,253.4L620.2,251.8Z"/>
<path fill="#7ba0c9" d="M621,241.4L623.8,239.7L627.2,238L631.6,238L636.1,238.9L638.3,238.6L640,242.5L637,244.2L631.9,243.4L626.9,244.6L621.9,246.3L618.5,247.6L619.4,244.2Z"/>
<path fill="#fde0a8" d="M616.9,257.2L619.4,255.9L623.6,256.6L627.3,257.2L628.6,260.1L627.7,263.5L625.6,266.4L623.6,265.2L621,263.5L618.5,261L616.9,258.9Z"/>
<path fill="#afc5de" d="M627.7,254.7L630.3,253.4L633.6,251.8L635.3,254.3L637.8,257.6L640.3,260.1L641.6,263.5L640.3,266.8L638.6,268.1L636.1,267.2L633.6,266L631.5,263.9L629.8,261.8L628.6,260.1L627.3,257.2Z"/>
<path fill="#afc5de" stroke="#afc5de" stroke-width=".5" d="M625.6,266.4L627.7,263.9L630.3,265.6L631.1,267.7L629.4,270.2L627.3,269.3Z"/>
<path fill="#fde0a8" stroke="#fde0a8" stroke-width=".5" d="M631.9,266.8L633.6,266L636.1,267.2L637,268.9L635.3,270.2L633.2,269.8Z"/>
<path fill="#afc5de" stroke="#afc5de" stroke-width=".5" d="M629.4,270.2L631.1,268.1L633.2,269.8L634.4,272.7L634.9,276L633.6,279.4L631.5,278.6L630.3,275.2L629.8,272.7Z"/>
<path fill="#afc5de" stroke="#afc5de" stroke-width=".5" d="M634.4,271.4L637,269.3L640.3,269.8L642.4,271.9L641.6,273.9L638.6,274.8L635.3,275.2Z"/>
<path fill="#7ba0c9" d="M633.6,279.4L634.9,276L635.3,275.2L638.6,274.8L641.6,273.9L644.9,273.1L648.7,272.7L652.9,273.1L653.7,274.4L650.4,275.2L647,275.6L644.5,276L642,276.9L643.7,279.4L646.2,281.9L647.8,284.4L647,286.9L644.9,286.1L643.7,284.4L642,285.3L644.1,288.6L644.9,292L643.2,295.1L640.3,293.6L638.6,290.7L637,287.8L637.8,285.3L635.3,282.7L633.6,281.1Z"/>
<path fill="#afc5de" d="M640.3,266.8L641.6,263.5L645.3,263.9L650.4,263.5L655.4,261.8L660.4,262.6L661.7,265.2L659.6,268.5L658.3,271.9L654.5,272.7L652.9,273.1L648.7,272.7L644.9,273.1L642.4,271.9L640.3,269.8L639,268.1Z"/>
<path fill="#afc5de" d="M633.6,251.8L636.1,248.8L638.6,245.9L643.7,245.5L648.7,245.9L652.9,244.2L656.2,243.4L658.7,246.7L660.4,250.9L661.7,254.3L663.8,256.8L662.9,259.3L660.4,258.5L660.4,262.6L655.4,261.8L650.4,263.5L645.3,263.9L641.6,263.5L640.3,260.1L637.8,257.6L635.3,254.3Z"/>
<path fill="#afc5de" stroke="#afc5de" stroke-width=".5" d="M656.2,243.4L658.7,243L662.1,245.1L664.2,248.4L663.8,251.3L661.7,253L660.4,250.9L658.7,246.7Z"/>
<path fill="#fbc65f" stroke="#fbc65f" stroke-width=".5" d="M654.5,272.7L658.3,271.9L661.2,272.7L663.8,274.4L662.5,275.6L659.6,276L657.1,276.9L654.5,276Z"/>
<path fill="#7ba0c9" stroke="#7ba0c9" stroke-width=".5" d="M645.8,300L651.7,300.3L655.3,301.3L651.7,302.2L646.7,301.3Z"/>
<path fill="#fde0a8" d="M641.1,234.7L643.4,231.9L641.7,228L643.4,228L648.4,227.4L654,228L660,228.5L666.7,227.5L670,225.8L676.7,228.3L685,231.7L693.3,235L700,240L700,236.7L699.2,242.5L695,245.8L690,249.2L693.3,251.7L693.5,249.7L691.8,251.8L687.6,251.3L684.3,252.6L682.6,254.7L679.3,255.1L676.8,254.3L672.6,251.8L669.2,250.9L666.7,252.6L663.4,251.8L663.8,256.8L661.7,254.3L663.8,251.3L664.2,248.4L662.1,245.1L658.7,243L656.2,243.4L652.9,244.2L648.7,245.9L643.7,245.5L638.6,245.9L637,244.2L638.6,242.5L637.8,240.9L638.6,238.4L640.3,235Z"/>
<path fill="#fde0a8" stroke="#fde0a8" stroke-width=".5" d="M678.8,254.9L680.1,254.4L682.6,254.7L685.1,255.9L687.6,257.6L685.1,257.2L682.6,258.5L680.1,259.3L677.6,256.8Z"/>
<path fill="#fbc65f" d="M655,278.6L657.9,277.7L662.1,276.9L665.4,275.2L668.8,273.9L672.1,272.7L677.2,271.9L681.8,272.3L687.6,274.4L693.5,275.6L699.4,276L705.2,275.2L709.4,272.7L710.3,270.2L711.9,270.2L715.3,271.9L718.6,273.5L720.3,277.7L723.7,280.2L722.4,282.3L721.4,282.2L722.5,285.6L721.4,291.2L714.7,291.7L706.8,292.3L699,293.4L691.2,294.5L684.5,293.4L676.7,292.8L670,294.5L663.3,292.5L659.2,290L655.8,285.8L656.7,280Z"/>
<path fill="#7ba0c9" stroke="#7ba0c9" stroke-width=".5" d="M678.9,302.3L681.7,301.8L683.4,302.9L680.6,303.7Z"/>
<path fill="#fde0a8" d="M512.8,332.5L516.2,328L519.5,323.5L521.2,318L524,313.5L527.9,309L532.4,305.1L535.7,301.2L538,299L541.3,300.7L545.8,301.8L550.2,301.2L551.9,302.3L551.9,307.9L553.6,312.4L552.5,314.6L548,315.7L544.1,318.5L541.3,321.9L535.7,324.7L530.1,326.9L525.7,330.2L525.1,333.6L524,334.1L516.7,334.4Z"/>
<path fill="#e1e1e1" d="M502.2,343.6L505.6,339.2L508.9,335.8L512.8,332.5L516.7,334.4L524,334.1L524,340.3L512.3,343.1L510.6,349.2L508.9,355.9L506.7,360L507.6,360.1L492.5,361.3L496.3,353.8Z"/>
<path fill="#fbc65f" d="M506.7,360L508.9,355.9L510.6,349.2L512.3,343.1L524,340.3L525.1,339.2L532.4,344.2L536.8,347L532.4,347L532.6,347.6L533.6,370L534.7,386.7L529.1,388.4L522.4,389L515.7,389.5L510.1,390.7L505.7,387.9L501.2,385.1L496.7,384L493.4,384.5L494,376.7L493.4,370L492.5,365.1L492.5,361.3L507.6,360.1Z"/>
<path fill="#f8a9a6" d="M551.9,302.3L555.8,299L562.5,296.2L569.2,294.5L578.2,294L584.8,293.4L589.3,294.5L588.8,299L588.2,303.4L586.5,307.4L588.2,311.3L591,315.7L593.2,319.6L594.9,323.5L594.3,329.1L594.9,335.8L594.9,342.5L596.6,347L600.5,350.3L603.3,353.1L590.2,362.6L580.2,368.9L572.7,373.1L567.6,370.1L558.9,363.8L547.6,356.3L536.3,348.8L525.1,339.2L525.1,333.6L525.7,330.2L530.1,326.9L535.7,324.7L541.3,321.9L544.1,318.5L548,315.7L552.5,314.6L553.6,312.4L551.9,307.9Z"/>
<path fill="#fde0a8" d="M589.3,294.5L591.5,292.3L596,292.3L598.8,294.5L598.2,298.4L596,302.3L598.2,305.7L601,309L601.6,312.4L598.2,314.6L596,318L594.9,323.5L593.2,319.6L591,315.7L588.2,311.3L586.5,307.4L588.2,303.4L588.8,299Z"/>
<path fill="#f0443e" d="M594.9,323.5L596,318L598.2,314.6L602.7,312.4L608.3,311.8L613.9,312.9L616.1,315.7L620.6,318.5L626.2,320.2L630.6,321.9L634,320.2L634,315.7L636.2,312.9L640,311.8L642.8,311.3L650.3,313.8L652.8,318.8L654,361.3L651.5,365.1L649,370.1L632.7,362.6L617.7,355.1L611.5,357.6L602.7,353.8L600.5,350.3L596.6,347L594.9,342.5L594.9,335.8L594.3,329.1Z"/>
<path fill="#f0443e" d="M654,360.6L652.8,318.8L660.3,317.5L670.3,318.8L674.5,318.5L680,319.6L684.5,319.1L687.9,318.5L689.5,323L690.7,326.9L690.1,330.2L688.4,332.5L686.7,329.7L684.5,326.9L681.2,325.2L680.6,326.9L683.4,331.4L686.7,336.9L690.1,343.6L693.4,350.3L696.8,357L698.5,360L699.1,360.1Z"/>
<path fill="#f8a9a6" d="M536.3,347.6L547.6,356.3L558.9,363.8L567.6,370.1L572.7,373.1L572.7,373.9L572.7,381.2L571.5,387.9L567.1,390.1L560.4,391.2L555.9,391.8L551.5,393.4L545.9,396.8L540.8,400.7L538.1,404.6L535.8,408.5L534.7,412.4L531.4,412.4L526.9,413L524.7,414.1L522.4,410.2L520.8,405.2L518,404.1L512.4,404.6L511.3,401.8L510.1,399L509.6,394.6L510.1,390.7L515.7,389.5L522.4,389L529.1,388.4L534.7,386.7L533.6,370L532.6,347.6Z"/>
<path fill="#f8a9a6" d="M572.7,373.1L580.2,368.9L590.2,362.6L602.7,353.8L611.5,357.6L616.5,356.3L617.7,375.1L612.7,386.4L612.9,390.1L610.6,395.7L608.4,397.7L602.8,399.3L596.1,400.1L590.5,399.3L584.9,399.6L580.5,397.9L574.9,397.4L571.5,400.1L569.3,402.9L566,403.5L561.5,401.3L558.2,396.8L555.9,391.8L560.4,391.2L567.1,390.1L571.5,387.9L572.7,381.2L572.7,373.9Z"/>
<path fill="#f8a9a6" d="M534.7,412.4L535.8,408.5L538.1,404.6L540.8,400.7L545.9,396.8L551.5,393.4L555.9,391.8L558.2,396.8L561.5,401.3L566,403.5L569.3,402.9L566.5,405.7L562.6,408L558.2,409.1L552.6,409.6L545.9,410.2L544.8,414.1L540.3,414.7L535.8,414.1Z"/>
<path fill="#c0110d" d="M616.5,356.3L617.7,355.1L632.7,362.6L649,370.1L649,387.6L645.3,393.9L643.5,400.2L645.8,406.7L644.8,410.2L640.3,412.2L635.7,416.7L631.2,418.9L627,420.7L622.5,422.4L618,423.9L616.7,422.4L613.5,418.9L611.2,415.7L613.5,414.4L616.7,413.4L613.5,411.2L612.5,408.4L613.5,404.4L611.5,400.2L610.2,396.4L612.7,386.4L617.7,375.1Z"/>
<path fill="#f0443e" d="M654,360.6L699.1,360.1L701.6,367.6L705.4,375.1L702.8,382.6L699.1,388.9L697.3,399.9L695.1,404.4L692.8,408.9L690.6,411.2L688.3,406.7L685.6,404.4L683.8,408.9L680.6,412.2L676.1,414.4L671.6,413.4L667,415.2L662.5,413.4L658,412.2L654.8,414.4L652,418.4L649.3,416.7L647,412.2L644.8,410.2L645.8,406.7L643.5,400.2L645.3,393.9L649,387.6L649,370.1L651.5,365.1L654,361.3Z"/>
<path fill="#f0443e" d="M701.6,382.6L705.4,378.9L710.4,386.4L716.6,393.9L722.9,400.2L725.4,403.9L720.4,402.7L714.1,397.6L707.9,393.9L702.8,395.1L699.1,393.9L699.8,388.9Z"/>
<path fill="#f8a9a6" d="M696.6,395.1L702.8,395.1L707.9,393.9L714.1,397.6L720.4,402.7L725.4,405.2L727.9,411.4L735.4,417.7L744.2,422.7L735.4,430.2L725.4,437.7L719.9,439.2L714.1,441.2L708.4,440.7L702.8,438.5L698.3,437.5L693.8,434.7L692.8,430.2L690.6,426.7L687.8,423.4L688.3,420.2L690.1,415.7L690.6,411.2L692.8,408.9L695.1,404.4L697.3,399.9Z"/>
<path fill="#f0443e" stroke="#f0443e" stroke-width=".5" d="M722.9,402.7L726.6,403.2L725.9,407.7L722.9,406.4Z"/>
<path fill="#e1e1e1" d="M727.9,411.4L735.4,413.9L745.4,411.4L755.4,406.4L756.7,412.7L752.9,422.7L745.4,435.2L735.4,447.7L725.4,457.7L720.4,465.2L717.9,455.2L719.1,445.2L725.4,437.7L735.4,430.2L744.2,422.7L735.4,417.7Z"/>
<path fill="#fbc65f" d="M569.3,403.5L571.5,400.1L574.9,397.4L580.5,397.9L584.9,399.6L590.5,399.3L596.1,400.1L602.8,399.3L608.4,397.7L612.3,400.1L613.5,404.4L611.2,408.9L609,412.2L605.7,416.7L602.4,422.4L598.9,427.9L594.4,430.2L591.2,433.5L590.5,437L587.2,438.1L582.7,438.7L578.2,437L576,433.6L572.7,430.8L567.1,429.7L566.5,422.5L567.6,416.9L569.3,412.4L570.4,406.8Z"/>
<path fill="#fbc65f" d="M559.8,410.4L562.6,408L566.5,405.7L569.3,403.5L570.4,406.8L569.3,412.4L567.6,416.9L566.5,422.5L567.1,429.7L562.6,430.3L562.4,425.8L561.7,420.2L560.6,414.7Z"/>
<path fill="#afc5de" d="M545.3,410.8L551.5,410L557,410L558.2,414.7L558.7,420.2L559.8,425.8L560.4,430.8L555.9,433.6L551.5,435.9L547,436.8L544.8,435.3L543.6,430.3L544.2,424.7L545.3,419.1Z"/>
<path fill="#fbc65f" d="M524.1,419.1L524.7,414.1L526.9,413L531.4,412.4L535.8,414.1L540.3,414.7L544.8,414.1L545.3,419.1L544.2,424.7L543.6,430.3L544.8,435.3L540.3,435.9L534.7,436.4L529.1,437.5L527.4,435.3L526.3,430.8L523.5,426.9L523.5,423Z"/>
<path fill="#fde0a8" d="M512.4,422.5L514.6,419.1L515.7,418.6L518.5,420.8L520.8,424.7L523.5,426.9L526.3,430.8L527.4,435.3L526.3,438.1L522.4,436.4L518,433.1L514.1,429.2L510.7,425.8Z"/>
<path fill="#f0443e" d="M497.9,408.5L500.7,406.3L501.8,402.9L506.8,403.5L512.4,404.6L518,404.1L520.8,405.2L522.4,410.2L523.5,414.7L524.1,419.1L523.5,423L520.8,424.7L518.5,420.8L515.7,418.6L512.9,416.3L509.6,413.5L506.2,414.1L504,416.9L501.8,413.5L499.5,410.8Z"/>
<path fill="#fde0a8" d="M504,416.9L506.2,414.1L509.6,413.5L512.9,416.3L514.6,419.1L512.4,422.5L509.6,424.7L506.8,422.5L504.8,419.7Z"/>
<path fill="#f0443e" stroke="#f0443e" stroke-width=".5" d="M492.3,403.5L496.7,402.6L501.8,402.9L500.7,406.3L497.9,408.5L495.1,406.8Z"/>
<path fill="#fde0a8" d="M490.6,390.7L492.3,386.7L496.7,384.3L501.2,385.1L505.7,387.9L510.1,390.7L509.6,394.6L510.1,399L511.3,401.8L505.7,402.4L500.1,401.8L495.6,402.4L492.3,402.9L491.2,399L490,394.6Z"/>
<path fill="#f8a9a6" d="M606.4,483.8L620.2,483.8L630.2,483.8L633.9,492.5L640.2,490L643.9,497.6L646.4,506.3L650.2,508.8L648.9,515.1L642.7,517.6L642.7,526.3L647.7,535.1L637.7,537.6L627.7,536.4L615.1,535.1L603.9,536.4L603.9,527.6L607.6,517.6L610.1,507.6L608.9,497.6L606.4,490Z"/>
<path fill="#fde0a8" d="M642.7,517.6L648.9,515.1L650.2,508.8L660.2,510.1L666.5,513.8L671.5,516.3L669,512.6L667.7,505.1L670.2,497.6L676.5,496.3L682.7,500.1L686.5,506.3L685.2,513.8L682.7,520.1L676.5,525.1L670.2,530.1L662.7,535.1L656.5,538.9L647.7,535.1L642.7,526.3Z"/>
<path fill="#f8a9a6" d="M695.3,510.1L705.3,508.8L712.8,506.3L715.3,513.8L714,525.1L707.8,532.6L700.3,538.9L694,546.4L692.8,553.9L694,562.7L690.3,568.9L684,572.7L680.2,577.7L677.7,573.9L679,565.2L680.2,557.6L682.7,547.6L685.2,537.6L682.7,532.6L676.5,527.6L682.7,520.1L686.5,513.8L690.3,520.1L691.5,527.6L694,532.6L696.5,525.1L692.8,518.8L691.5,510.1Z"/>
<path fill="#fde0a8" d="M686.5,506.3L689,502.6L691.5,510.1L692.8,518.8L696.5,525.1L694,531.4L691.5,527.6L690.3,520.1L686.5,513.8Z"/>
<path fill="#f0443e" d="M656.5,538.9L662.7,535.1L670.2,530.1L676.5,530.1L682.7,532.6L685.2,537.6L682.7,547.6L680.2,556.4L672.7,557.6L665.2,552.6L660.2,546.4Z"/>
<path fill="#7ba0c9" d="M635.2,556.4L637.7,542.6L638.9,538.9L647.7,540.1L656.5,538.9L660.2,546.4L665.2,552.6L672.7,557.6L667.7,560.2L661.5,565.2L656.5,570.2L648.9,572.7L642.7,577.7L636.4,577.7L634.7,567.7Z"/>
<path fill="#afc5de" d="M603.9,536.4L615.1,535.1L627.7,536.4L637.7,537.6L647.7,535.1L650.2,538.1L638.9,538.9L637.7,542.6L635.2,556.4L634.7,567.7L635.2,587.7L630.2,588.9L622.7,586.4L617.6,578.9L613.9,567.7L610.1,556.4L606.4,546.4Z"/>
<path fill="#7ba0c9" d="M622.7,586.4L630.2,588.9L635.2,587.7L634.7,577.7L642.7,577.7L648.9,572.7L656.5,570.2L661.5,565.2L667.7,560.2L672.7,557.6L679,560.2L679,573.9L682.7,580.2L680.2,586.4L675.2,594L667.7,601.5L659,606.5L650.2,610.2L640.2,611.5L631.4,612.7L626.4,606.5L627.7,600.2L623.9,592.7Z"/>
<path fill="#afc5de" d="M660.2,590.2L665.2,586.4L669.7,588.9L667.7,594L662.7,595.7Z"/>
<path fill="#f8a9a6" stroke="#f8a9a6" stroke-width=".5" d="M675.7,575.7L679,573.9L680.7,577.2L678.2,579.7Z"/>
<path fill="#fde0a8" d="M746.6,513.8L751.6,516.3L752.8,526.3L749.1,537.6L745.3,550.1L740.3,562.7L734.1,571.4L727.8,572.2L724.1,565.2L725.3,555.1L729.1,545.1L727.8,535.1L732.8,530.1L739.1,525.1L744.1,518.8Z"/>
<path fill="#f0443e" d="M612.4,408.4L613.5,411.2L616.8,413.4L613.5,414.5L611.3,415.6L613.5,419L616.8,422.3L618,424.6L615.2,427.9L613.5,432.4L614.6,438L616.8,442.4L619.1,445.8L618.5,448L612.4,448.6L606.8,448.6L600.1,448L594.5,447.4L593.4,443.5L591.2,439.1L591.2,433.5L594.5,430.1L599,427.9L602.3,422.3L605.7,416.7L609,412.3L611.3,408.9Z"/>
<path fill="#c0110d" d="M618,424.6L622.4,422.3L626.9,420.7L631.4,419L635.8,416.7L640.3,412.3L644.8,410L647,412.3L649.2,416.7L652,419.5L655.9,424.6L659.3,429L662.6,433.5L661.5,435.2L657,435.2L651.5,436.3L647,438.5L643.6,440.2L640.3,438L635.8,436.3L632.5,435.7L629.1,438.5L626.9,441.9L622.4,442.4L619.1,444.1L616.8,442.4L614.6,438L613.5,432.4L615.2,427.9Z"/>
<path fill="#e1e1e1" d="M652,418.4L654.8,414.5L658.2,412.3L662.6,413.4L667.1,415.1L671.5,413.4L676,414.5L680.5,412.3L683.8,408.9L685.5,404.5L688.3,406.7L690.5,411.2L690,415.6L688.3,420.1L687.7,423.4L690.5,426.8L692.8,430.1L693.9,434.6L691.6,438L687.2,440.2L682.7,441.3L678.2,440.8L674.9,439.1L671.5,438.5L668.2,436.8L664.8,434.6L662.6,433.5L659.3,429L655.9,424.6Z"/>
<path fill="#c0110d" d="M629.1,438.5L632.5,435.7L635.8,436.3L640.3,438L643.6,440.2L647,438.5L651.5,436.3L657,435.2L661.5,435.2L664.8,434.6L668.2,436.8L671.5,438.5L674.9,439.1L677.1,444.7L678.2,449.1L677.1,452.5L674.9,455.8L673.8,460.3L672.7,463.6L671,465.9L672.7,476.3L675.2,485L672.7,496.3L670.2,497.6L667.7,505.1L669,512.6L671.5,516.3L666.5,513.8L660.2,510.1L650.2,508.8L646.4,506.3L643.9,497.6L640.2,490L633.9,492.5L630.2,483.8L620.2,483.8L606.4,483L617.6,477.5L621.4,470L623.5,468.1L625.8,462.5L626.9,455.8L628,449.1L628,443.5L626.9,441.9Z"/>
<path fill="#f0443e" d="M619.1,445.8L622.4,442.4L626.9,441.9L628,443.5L628,449.1L626.9,455.8L625.8,462.5L623.5,468.1L621.4,470L617.6,477.5L606.4,482.5L603.9,478.8L602.6,475L602.3,477L601.8,472.6L603.4,470.3L607.9,469.2L612.4,468.1L613.5,463.6L612.9,459.2L611.8,454.7L609.6,452.5L610.1,449.7L612.4,448.6L618.5,448Z"/>
<path fill="#f8a9a6" d="M591.7,455.8L593.4,454.1L600.1,453.8L600.1,449.1L606.8,448.6L612.4,448.6L610.1,449.7L609.6,452.5L611.8,454.7L612.9,459.2L613.5,463.6L612.4,468.1L607.9,469.2L603.4,470.3L601.8,472.6L602.3,477L600.1,474.8L596.7,470.3L593.4,465.9L591.2,461.4Z"/>
<path fill="#c0110d" stroke="#c0110d" stroke-width=".5" d="M593.4,449.7L600.1,449.5L600.1,453.6L593.4,453.8Z"/>
<path fill="#fbc65f" d="M678.2,440.8L682.7,441.3L687.2,440.2L691.6,438L691.1,442.4L692.2,446.9L692.8,451.4L690.5,455.8L689.4,458.1L684.9,458.1L681.6,460.8L677.1,462.5L674.9,463.6L673.8,460.3L674.9,455.8L677.1,452.5L678.2,449.1L677.1,444.7Z"/>
<path fill="#fde0a8" d="M693.9,435.2L698.3,437.4L702.8,438.5L708.4,440.8L714,441.3L720,439.6L720,446.9L717.9,449.1L718.4,462.5L720,465.9L714,472.6L710.6,477L706.2,473.7L700.6,469.2L695,465.9L690.5,463.1L691.6,459.2L690.5,455.8L692.8,451.4L692.2,446.9L691.1,442.4L691.6,438Z"/>
<path fill="#fde0a8" d="M674.9,463.6L677.1,462.5L681.6,460.8L681.6,467L683.8,469.8L687.2,469.2L690,467L690.5,463.1L695,465.9L700.6,469.2L706.2,473.7L710.6,477L714,477.5L711.5,487.5L714,497.6L712.8,506.3L705.3,508.8L695.3,510.1L689,502.6L682.7,500.1L676.5,496.3L672.7,496.3L675.2,485L672.7,476.3L676.2,471.5L676.6,468.1Z"/>
<path fill="#ffffff" stroke="none" d="M682.2,460.8L684.9,458.6L690,458.1L691.6,459.7L690.5,463.1L690,467L687.2,469.2L683.8,469.8L681.6,467Z"/>
<path fill="#f8a9a6" stroke="#f8a9a6" stroke-width=".5" d="M671,465.9L674.9,464.8L676.6,468.1L676.2,471.5L672.7,472L670.7,469.8Z"/>
<path fill="#f0443e" stroke="#f0443e" stroke-width=".5" d="M671.5,472.6L676,472L676.2,475.9L673.8,478.2L671.8,477Z"/>
<path fill="#f0443e" stroke="#f0443e" stroke-width="0.4" d="M557,410L559.8,410.4L560.6,414.7L561.7,420.2L562.4,425.8L562.6,430.3L560.4,431.2L559.8,425.8L558.7,420.2L558.2,414.7Z"/>
<path fill="#f0443e" d="M690.7,328.6L694,328L698.5,324.7L701.8,320.8L700.1,316.8L704.6,313.5L708,316.3L713.5,316.8L720.2,319.6L726.9,323L732.5,325.8L735.9,327.4L738.7,329.1L741.5,329.7L743.7,333.6L747,338.1L749.8,342L749.3,342.3L751.5,346.7L754.9,350.1L757.7,354L760.5,355.7L764.9,356.8L770,357.9L770.5,363.5L770,369.1L763.8,371.9L758.2,374.7L750.4,376.3L744.8,378L741.5,381.9L738.2,382.5L732.6,381.4L727,381.9L723.6,383.6L721.4,383.6L718.1,378L714.7,372.4L711.4,366.8L708.6,361.3L705.8,354.6L701.9,349L698,343.4L693.5,337.8L689.6,333.3L692.3,333Z"/>
<path fill="#c0110d" d="M723.6,383.6L727,381.9L732.6,381.4L738.2,382.5L741.5,381.9L744.8,378L750.4,376.3L758.2,374.7L760.5,379.1L762.7,384.7L757.1,388.1L751.5,390.8L746,393.6L740.4,396.4L734.8,399.2L729.2,401.5L727,402L725.9,397L724.2,390.3Z"/>
<path fill="#f8a9a6" d="M758.2,374.7L763.8,371.9L770,369.1L770.5,363.5L770,357.9L771.6,352.3L773.9,349L778.3,351.2L782.8,354.6L787.3,359L785,364.6L781.1,369.1L780.6,373L776.1,376.9L771.6,380.2L767.2,382.5L762.7,384.7L760.5,379.1Z"/>
<path fill="#f0443e" d="M757.7,354L762.7,351.8L767.2,349L770.5,345.6L772.8,344.5L773.3,347.9L771.6,352.3L770,357.9L764.9,356.8L760.5,355.7Z"/>
<path fill="#f8a9a6" stroke="#f8a9a6" stroke-width=".5" d="M752.1,342.8L754.3,342.3L754.9,346.2L753.2,347.9L752.1,345.6Z"/>
<path fill="#f8a9a6" d="M692.3,315.7L693.4,312.4L696.2,313.5L699,311.8L703.5,309.6L704.6,313.5L700.1,316.8L701.8,320.8L698.5,324.7L694,328L690.7,328.6L690.1,324.7L691.2,320.8Z"/>
<path fill="#f8a9a6" d="M713,294L716.9,292.8L721.4,292.3L723.6,295.6L726.9,299L729.2,303.4L730.8,307.9L734.8,312.4L738.1,316.8L739.8,320.8L740.3,324.7L737,324.1L735.9,327.4L732.5,325.8L726.9,323L720.2,319.6L713.5,316.8L708,316.3L704.6,313.5L703.5,309.6L706.8,306.2L709.6,303.4L711.3,299Z"/>
<path fill="#f8a9a6" stroke="#f8a9a6" stroke-width=".5" d="M735.9,324.7L739.2,324.1L740.9,326.9L741.5,329.7L738.7,329.1L736.4,327.4Z"/>
<path fill="#c0110d" d="M691.8,300.7L694,296.7L699,294.5L706.8,293.4L713,294L711.3,299L709.6,303.4L706.8,306.2L703.5,309L699,311.8L696.2,313.5L693.4,312.4L694,307.9L694.6,304Z"/>
<path fill="#fde0a8" stroke="#fde0a8" stroke-width=".5" d="M691.2,305.1L694,304L694,307.9L692.9,310.1L691,309.6Z"/>
<path fill="#7ba0c9" d="M688.4,312.4L691,310.1L692.9,310.7L692.3,315.7L691.2,320.8L689.5,323L688.1,318.5Z"/>
<path fill="#c0110d" d="M721.4,282.2L724.7,284.5L730.3,285.6L733.6,282.2L737,286.7L742,291.2L748.2,294L754.8,294L757.1,291.2L759.3,290.6L764.9,287.8L770.5,288.9L776.1,291.2L781.6,293.4L786.1,295.6L783.9,300.1L785,307.9L787.2,313.5L790.6,320.2L788.3,324.7L792.8,330.2L796.2,335.8L797.8,338.1L793.9,340.8L792.8,345.3L786.1,344.2L779.4,343.1L773.8,340.8L770.5,338.1L766,340.3L761.5,338.1L757.1,334.7L753.7,331.4L750.4,326.9L745.9,324.1L741.5,324.7L740.3,321.3L738.1,316.8L734.8,312.4L730.8,307.9L729.2,303.4L726.9,299L723.6,295.6L721.4,292.3L721.9,287.8Z"/>
<path fill="#f8a9a6" d="M722.5,237.6L730.1,231.3L740.1,228.8L752.6,231.3L765.1,225L775.1,216.3L787.6,212.5L800.2,215L810.2,218.8L822.7,217.5L830.2,227.5L840.2,232.5L852.7,236.3L862.8,241.3L860.3,247.6L852.7,250.1L852.1,250L851.3,255.9L847.9,256.7L843.8,258.4L845.4,260.9L847.9,265.1L847.1,268.8L843.8,268L837.1,267.2L830.4,267.6L823.7,266.8L817,268L813.6,270.5L811.9,273L808.6,275.5L805.2,277.2L801,274.7L796.9,270.5L793.5,266.3L787.6,265.1L780.9,264.7L775.1,261.3L772.6,258.8L767.6,253.8L758.9,256.3L760.1,270.1L752.6,272.6L748.8,267.6L746.3,260.1L743.8,253.8L746.3,250.1L740.1,248.8L731.3,250.1L727.6,245.1Z"/>
<path fill="#f0443e" d="M760.1,270.1L760.1,257.6L767.6,253.8L772.6,258.8L775.1,260.9L780.9,264.2L787.6,264.7L793.5,265.9L796.9,270.1L801,274.3L805.2,276.8L808.6,275.1L811.9,272.6L813.6,275.1L810.3,277.6L807.7,281L805.6,283.5L807.7,286.9L808.6,291L805.2,291.5L803.6,289.8L801.9,288.1L796.9,286L791.8,283.5L786.8,280.2L782.6,276L777.6,273.5L774.2,270.1L769.2,268.8L765,270.9Z"/>
<path fill="#c0110d" d="M752.6,272.6L760.1,270.1L765,270.9L769.2,268.8L774.2,270.1L777.6,273.5L782.6,276L786.8,280.2L791.8,283.5L796.9,286L801.9,288.1L803.6,289.8L801.9,291.5L799.4,291.9L796.9,293.6L791.8,294.8L786.1,295.6L781.6,293.4L776.1,291.1L770.4,288.9L764.9,287.9L759.4,290.6L757.1,291.1L755.8,286.6L753.8,277.6Z"/>
<path fill="#f8a9a6" d="M813.6,270.1L817,267.6L823.7,266.3L830.4,267.2L837.1,266.8L843.8,267.6L847.1,268.4L846.7,271.8L842.9,274.3L838.7,276L834.5,277.6L831.2,279.3L828.7,281.8L825.3,282.7L820.3,282.2L816.1,281.4L811.9,281L813.6,278.5L818.6,278.9L822.8,276.8L818.6,275.1L815.3,276L813.6,275.1L811.9,272.6Z"/>
<path fill="#c0110d" d="M805.6,283.5L807.7,281L810.3,277.6L811.9,281L816.1,281.4L820.3,282.2L825.3,282.7L828.7,281.8L829.5,285.2L832,287.7L833.7,290.2L830.4,291L827,290.2L823.7,291.9L822,288.5L819.5,286.9L817,289.4L813.6,291L810.3,291.9L808.6,291L807.7,286.9Z"/>
<path fill="#c0110d" d="M786.1,295.6L791.8,294.8L796.9,293.6L799.4,291.9L801.9,291.5L805.2,291.5L808.6,291L810.3,291.9L813.6,291L817,289.4L819.5,286.9L822,288.5L823.7,291.9L827,290.2L830.4,291L833.7,290.2L834.5,291.9L831.2,293.1L827,293.6L823.7,293.6L824.7,295.7L822.5,298.5L821.4,303L820.8,307.4L819.1,310.8L816.9,314.1L812.4,317.5L808,320.8L802.4,323.1L796.8,325.3L791.2,325.8L788.3,324.6L790.6,320.2L787.2,313.5L785,307.9L783.9,300.1L786.1,295.6Z"/>
<path fill="#fbc65f" d="M823.7,293.6L827,293.6L831.2,293.1L834.5,291.9L839.2,297.4L837,301.8L835.9,306.3L838.1,310.8L840.9,314.1L839.8,318.6L837,323.1L833.6,327.5L830.3,330.9L825.1,337.5L828.9,345L826.4,351.3L821.4,352.5L813.9,347.7L810.2,344L802.7,344.7L792.8,345.3L793.9,340.8L797.8,338.1L796.2,335.8L792.8,330.2L788.3,324.7L791.2,325.8L796.8,325.3L802.4,323.1L808,320.8L812.4,317.5L816.9,314.1L819.1,310.8L820.8,307.4L821.4,303L822.5,298.5Z"/>
<path fill="#7ba0c9" d="M834.5,291.9L841.5,294.3L845.9,298.5L850.4,304.1L853.2,309.7L854.8,314.1L858.2,318.6L861.5,321.9L862.7,325.3L862.1,328.6L864.9,332L870.5,335.3L877.2,338.7L885,340.9L893.9,339.8L894.5,336.5L897.8,334L904.1,332.2L909.1,334L915.3,332.7L922.8,327.7L927.9,332.7L924.1,340.2L920.3,347.7L916.6,357.7L916.5,360L914,355L908.3,359.5L902.7,360.5L900.2,358L896.5,362.5L890.2,370.1L882.7,377.6L876.5,383.8L870.2,390.1L870.2,397.6L868.9,407.6L866.4,416.4L862.7,421.4L858.9,417.6L855.2,410.1L850.2,400.1L845.2,387.6L841.4,377.6L838.9,367.6L836.4,360L831.4,363.8L825.1,360L821.4,352.5L826.4,351.3L828.9,345L825.1,337.5L830.3,330.9L833.6,327.5L837,323.1L839.8,318.6L840.9,314.1L838.1,310.8L835.9,306.3L837,301.8L839.2,297.4Z"/>
<path fill="#fbc65f" d="M862.7,325.3L866,323.1L870.5,325.3L876.1,328.6L881.6,330.9L887.2,333.1L892.8,333.7L894.5,336.5L893.9,339.8L885,340.9L877.2,338.7L870.5,335.3L864.9,332L862.1,328.6Z"/>
<path fill="#fde0a8" d="M897.3,334.2L900.6,332L906.2,332L909.6,333.7L908.4,336.5L902.9,337L898.4,336.5Z"/>
<path fill="#fde0a8" d="M895.2,341.3L900.2,340L905.2,345L910.3,348.8L912.8,353.8L908.3,359.5L902.7,360.5L900.2,355L897.7,348.8Z"/>
<path fill="#afc5de" d="M870.2,416.4L874,415.1L877.7,421.4L878.2,427.6L874.7,431.4L871.4,428.9L869.7,422.6Z"/>
<path fill="#afc5de" d="M865.3,240.1L875.3,235.1L887.8,232.5L895.3,227.5L905.3,230L915.3,235.1L927.9,237.6L940.4,238.8L952.9,235.1L960.4,237.6L962.9,243.8L972.9,245.1L979.2,248.8L970.4,252.6L960.4,257.6L955.4,265.1L945.4,268.9L935.4,272.6L922.8,270.1L910.3,267.6L900.3,262.6L890.3,258.8L880.3,253.8L872.8,246.3Z"/>
<path fill="#fde0a8" d="M709.4,264.7L713.6,266L718.6,267.2L723.7,268.5L727,271.9L726.2,273.9L722.8,274.4L718.6,273.5L715.3,271.9L711.9,270.2L709.8,268.1Z"/>
<path fill="#fde0a8" d="M718.6,273.9L722.8,274.5L726.2,276.9L727.8,280.2L728.7,283.6L726.2,282.7L723.7,280.2L720.3,277.7Z"/>
<path fill="#f0443e" d="M726.2,273.9L727,271.9L731.2,273.5L733.7,272.3L737.1,275.2L740.4,278.6L738.3,281.9L737.1,285.3L735.4,283.6L733.7,281.9L731.2,283.2L728.7,283.6L727.8,280.2L726.2,276.9L724.5,275.2Z"/>
<path fill="#ffffff" stroke="none" d="M727,258.5L728.7,255.1L731.2,251.8L735.4,250.1L740.4,249.2L745.4,250.1L747.1,252.6L745.4,255.9L742.1,257.6L740.4,260.1L743.8,262.6L747.1,266L748.8,270.2L751.3,271.9L753.8,271L756.3,273.5L757.2,276L753,276.9L751.3,278.6L752.1,281.9L754.6,285.3L756.3,288.6L757.6,292.8L753.8,294L748.8,293.6L743.8,292L739.6,288.6L737.9,285.3L738.7,281.9L740.4,278.6L737.1,275.2L733.7,271.9L732,268.5L729.5,266L728.3,261.8Z"/>
<path fill="#f0443e" stroke="#f0443e" stroke-width="0.3" d="M765.5,402.3L769.4,402L768.9,403.7L766.1,403.7Z"/>
<path fill="#f0443e" stroke="#f0443e" stroke-width=".5" d="M810.3,277.6L813.6,275.1L815.3,276L818.6,275.1L822.8,276.8L818.6,278.9L813.6,278.5L811.9,281Z"/>
<path fill="#c0110d" d="M862.8,241.3L865.3,240.1L872.8,246.3L880.3,253.8L890.3,258.8L900.3,262.6L910.3,267.6L922.8,270.1L935.4,272.6L945.4,268.9L955.4,265.1L960.4,257.6L970.4,252.6L979.2,248.8L972.9,245.1L962.9,243.8L961.7,237.6L967.9,230L966.7,222.5L965,222.7L972.5,220.2L982.6,225.2L990.1,231.4L1000.1,237.7L1010.1,245.2L1020.1,246.5L1027.6,244L1030.1,250.2L1028.9,257.7L1030.2,265L1026.4,268.8L1020.2,271.3L1015.1,277.5L1012.6,281.3L1005.1,280L1000.1,276.3L995.1,278.8L991.4,283.8L995.1,287.6L1000.1,290.1L1006.4,287.6L1011.4,290.1L1006.4,293.8L1001.4,298.8L1007.6,305.1L1013.9,312.6L1017.6,320.1L1020.2,327.6L1019.5,333.3L1018.3,334.5L1016.1,340L1013.9,345.6L1011.6,350.1L1007.2,354L1002.7,356.2L998.2,356.8L994.9,356.2L992.7,359L988.2,361.8L984.8,363.5L982.6,362.9L980.9,363.5L978.2,362.4L973.7,362.4L969.8,360.1L967,356.8L963.6,354.6L960.3,355.1L955.8,356.8L952.5,359L949.1,360.1L946.9,362.9L943.5,361.3L940.2,357.9L938,353.4L933.5,351.2L932.4,346.7L933.5,341.2L932.4,335.6L930.1,332.2L927.9,332.7L922.8,327.7L915.3,332.7L909.1,334L904.1,332.2L897.8,334L894.5,336.5L892.8,333.7L887.2,333.1L881.6,330.9L876.1,328.6L870.5,325.3L866,323.1L861.5,321.9L858.2,318.6L854.8,314.1L853.2,309.7L850.4,304.1L845.9,298.5L841.5,294.3L834.5,291.9L833.7,290.2L832,287.7L829.5,285.2L828.7,281.8L831.2,279.3L834.5,277.6L838.7,276L842.9,274.3L846.7,271.8L847.1,268.4L847.9,265.1L845.4,260.9L843.8,258.4L847.9,256.7L851.3,255.9L852.1,250L852.7,250.1L860.3,247.6Z"/>
<path fill="#afc5de" stroke="#afc5de" stroke-width=".5" d="M1012.7,495.9L1020.2,496.4L1020.7,498.4L1013.2,498.2Z"/>
<path fill="#afc5de" stroke="#afc5de" stroke-width=".5" d="M1025.2,500.2L1032.7,501.4L1031.4,504L1025.2,502.7Z"/>
<path fill="#afc5de" d="M1041.5,500.2L1050.2,496.4L1056.5,495.2L1052.7,498.9L1045.2,502.7Z"/>
<path fill="#475593" d="M988.8,612.7L991.3,607.7L993.8,600.2L995.1,590.2L992.6,580.1L993.8,570.1L995.1,561.4L1001.3,556.3L1011.4,552.6L1021.4,548.8L1028.9,543.8L1033.9,536.3L1040.2,531.3L1046.4,527.6L1050.2,522.5L1057.7,523.8L1063.9,521.3L1067.7,513.8L1068.9,510L1076.5,508.8L1085.2,512.5L1091.5,513.8L1089.7,520L1087.7,525.1L1092.7,530.1L1099,535.1L1104,537.1L1107.8,531.3L1110.3,522.5L1112.3,513.8L1115.3,507L1119,513.8L1120.8,522.5L1124.8,531.3L1126.5,540.1L1131.5,546.3L1135.3,552.6L1137.8,561.4L1144.1,568.9L1144.1,576.4L1141.6,586.4L1137.8,595.2L1131.5,603.9L1124,612.7L1116.5,620.2L1110.3,626.5L1102.7,629.7L1095.2,631.5L1087.7,630.2L1081.5,629L1076.5,624L1075.2,616.4L1076.5,607.7L1071.4,612.7L1067.7,617.7L1063.9,610.2L1060.2,603.9L1051.4,602.2L1040.2,602.7L1030.1,605.2L1020.1,608.9L1010.1,611.4L1000.1,613.9L993.8,614.7Z"/>
<path fill="#475593" d="M1082.7,642.7L1089,640.2L1095.7,640.7L1094,646.5L1089,651.5L1084,652.7L1081.5,647.7Z"/>
<path fill="#475593" stroke="#475593" stroke-width="0.8" d="M1201.1,613.9L1204.4,614.7L1205.4,621.4L1209.4,626L1215.4,626.7L1210.9,632L1205.4,635.7L1200.4,640.7L1195.4,643.7L1192.4,640.2L1197.9,634.7L1201.1,629L1201.9,621.4Z"/>
<path fill="#475593" stroke="#475593" stroke-width="0.8" d="M1186.6,639.7L1190.4,642.7L1184.1,649.5L1175.4,655.7L1166.6,660.8L1157.8,664.5L1150.3,667L1146.8,664.8L1152.8,659.8L1161.6,654.7L1170.3,649.7L1179.1,644.2Z"/>
<path fill="#c0110d" d="M1012.8,280.2L1015.6,276.9L1019.5,273.5L1024,270.2L1027.9,267.4L1030.1,265.7L1031.3,269.1L1028.5,273L1026.8,275.8L1025.1,279.1L1026.8,282.5L1029,285.8L1025.1,289.2L1021.2,288.6L1017.9,286.9L1015.6,283.6Z"/>
<path fill="#475593" d="M1025.1,289.2L1028.5,287.5L1032.4,289.7L1035.7,293.6L1038.5,298.1L1038,301.5L1035.2,303.7L1031.8,304.2L1029.6,301.5L1027.9,297L1026.2,293.1Z"/>
<path fill="#475593" d="M1060.8,256.2L1064.8,257.9L1069.2,260.7L1073.7,262.4L1078.2,262.9L1079.8,265.7L1077,268L1073.7,269.6L1070.3,269.1L1067,270.8L1064.8,271.9L1063.1,269.6L1062,266.8L1064.2,263.5L1062.5,260.1Z"/>
<path fill="#475593" d="M1067,274.1L1069.8,274.7L1072.6,276.9L1074.8,280.2L1077,284.7L1076.5,289.2L1078.2,293.1L1080.4,298.1L1079.8,301.5L1077,303.1L1073.1,304.2L1069.2,304.8L1067,308.2L1065.3,307L1064.8,303.7L1060.3,302.6L1055.8,302.6L1051.9,303.7L1049.1,305.9L1046.9,307.6L1049.1,304.2L1052.5,300.9L1056.9,299.8L1061.4,299.2L1064.2,296.4L1065.9,292.5L1068.1,288.1L1069.2,283.6L1068.7,279.1Z"/>
<path fill="#475593" stroke="#475593" stroke-width=".5" d="M1054.7,305.9L1059.2,305L1060.8,307L1058.1,308.7L1055.3,308.2Z"/>
<path fill="#475593" stroke="#475593" stroke-width=".5" d="M1045.2,308.2L1049.1,307.6L1050.8,310.4L1050.2,313.2L1047.4,314.8L1045.2,312.6Z"/>
<path fill="#f0443e" stroke="#f0443e" stroke-width=".5" d="M1079.8,260.7L1081.5,259.3L1082.2,260.1L1080.6,261.6Z"/>
<path fill="#f0443e" stroke="#f0443e" stroke-width=".5" d="M1084.8,256.2L1086.5,254.8L1087.2,255.7L1085.6,257.1Z"/>
<path fill="#f0443e" stroke="#f0443e" stroke-width=".5" d="M1088.2,252.9L1089.3,251.9L1089.9,252.7L1088.9,253.7Z"/>
<path fill="#c0110d" d="M916.5,360L919,355L924,340L927.9,334.5L930.1,332.2L932.4,335.6L933.5,341.2L932.4,346.7L933.5,351.2L938,353.4L940.2,357.9L943.5,361.3L946.9,362.9L944.7,365.7L941.3,368L938,370.2L935.7,373.5L935.2,378L936.8,382.5L940.2,386.9L941.3,392.5L944.7,398.1L945.8,405.9L945.2,410L945.1,411.3L943.1,407.6L943,403.7L940.2,397L938,390.3L935.7,383.6L933.5,382.5L931.3,385.8L927.9,387.5L925.1,385.8L924.6,380.2L923.4,374.7L920.1,370.2L916.7,366.8L914.5,363.5Z"/>
<path fill="#c0110d" d="M946.9,362.9L949.1,360.1L952.5,359L954.7,362.4L957.5,365.2L960.8,366.8L962.5,369.1L960.3,371.9L962.5,374.7L965.9,378L969.2,382.5L972.6,386.9L975.9,390.8L975.4,393.6L971.5,394.2L969.8,390.8L968.1,385.8L964.8,381.4L961.4,378L958.1,376.9L954.7,378L951.9,379.1L950.2,374.7L948,371.3L945.8,368L944.7,365.7Z"/>
<path fill="#f0443e" d="M952.5,359L955.8,356.8L960.3,355.1L963.6,354.6L967,356.8L969.8,360.1L973.7,362.4L971.5,364.6L968.7,368L967.5,371.9L969.2,375.8L972.6,380.2L977,384.7L980.4,389.2L983.2,394.2L984.3,399.2L983.2,403.7L980.4,407L977,409.3L973.7,410L974.2,407L978.2,403.7L979.3,399.2L978.2,394.8L975.9,390.8L972.6,386.9L969.2,382.5L965.9,378L962.5,374.7L960.3,371.9L962.5,369.1L960.8,366.8L957.5,365.2L954.7,362.4Z"/>
<path fill="#afc5de" d="M935.7,373.5L938,370.2L941.3,368L944.7,365.7L945.8,368L948,371.3L950.2,374.7L951.9,379.1L954.7,378L958.1,376.9L961.4,378L964.8,381.4L968.1,385.8L969.8,390.8L967,393.6L962.5,394.8L959.2,395.9L957.5,399.2L955.8,401.5L953.6,398.1L950.8,397L949.1,399.2L949.1,403.7L950.2,410L951.3,416.3L950.1,423.8L953.8,430.1L950.1,431.3L946.3,423.8L944.6,416.3L945.2,410L945.8,405.9L944.7,398.1L941.3,392.5L940.2,386.9L936.8,382.5L935.2,378Z"/>
<path fill="#f8a9a6" d="M957.5,399.2L959.2,395.9L962.5,394.8L967,393.6L971.5,394.2L975.4,393.6L977,397L977,401.5L974.8,405.9L972.6,410L969.2,411.5L962.5,410L959.7,405.9L958.1,402.6Z"/>
<path fill="#c0110d" d="M979.3,371.3L982.1,369.1L985.4,368.9L987.1,371.3L986,374.7L983.2,376.3L980.4,375.2Z"/>
<path fill="#475593" d="M1020,350.1L1021.7,346.7L1023.9,345.6L1025.6,348.4L1025,353.4L1023.9,357.9L1022.3,359L1020.6,355.7Z"/>
<path fill="#afc5de" stroke="#afc5de" stroke-width="1.0" d="M943.4,415L947.3,415L949,419.5L951.2,424.5L954,427.8L957.4,430.1L955.1,431.7L952.4,430.6L950.1,427.3L947.3,423.4L944.5,420Z"/>
<path fill="#7ba0c9" stroke="#7ba0c9" stroke-width="1.0" d="M951.2,430.6L954.6,431.7L957.9,430.6L960.7,432.9L963.5,437.3L964.1,441.8L965.8,446.8L967.4,450.7L965.2,451.8L961.8,450.2L958.5,446.8L955.7,442.9L953.5,439L951.8,434.5Z"/>
<path fill="#afc5de" stroke="#afc5de" stroke-width="1.0" d="M931.7,435.1L935,434L939.5,435.7L943.4,439L947.3,443.5L951.8,447.4L956.3,450.7L960.7,454.6L964.6,458.5L967.4,463L970.8,467.5L973.6,471.9L974.1,477.5L973,483.1L970.2,483.7L966.3,480.9L962.4,476.4L958.5,471.9L955.1,467.5L951.8,462.4L948.4,456.9L945.1,451.3L941.7,446.3L937.8,441.2L933.9,437.9Z"/>
<path fill="#afc5de" stroke="#afc5de" stroke-width="1.0" d="M971.9,466.9L974.1,466.4L976.4,469.7L975.2,471.4L973,469.7Z"/>
<path fill="#afc5de" stroke="#afc5de" stroke-width="1.0" d="M980.8,470.8L983.1,470.8L982.5,472.5Z"/>
<path fill="#7ba0c9" stroke="#7ba0c9" stroke-width="1.0" d="M990.3,451.8L994.2,448.5L998.7,445.1L1003.2,442.4L1007.6,439L1011,435.7L1013.2,431.7L1016.5,428.4L1019.9,429.5L1022.1,432.9L1025.5,435.1L1023.2,436.8L1019.9,437.3L1022.1,439L1018.8,440.1L1014.3,440.1L1012.1,442.9L1009.8,447.4L1006.5,450.7L1002,451.8L997.6,453.5L993.7,454.1Z"/>
<path fill="#afc5de" stroke="#afc5de" stroke-width="1.0" d="M986.4,453L988.6,450.7L990.3,451.8L993.7,454.1L997.6,453.5L1002,451.8L1006.5,450.7L1009.8,447.4L1012.1,442.9L1014.3,440.1L1018.8,440.1L1019.9,444L1022.1,448.5L1024.4,453.5L1021,455.2L1019.9,459.7L1017.7,464.1L1015.4,468.6L1014.3,474.2L1009.8,476.4L1007.6,473.1L1003.2,473.6L997.6,473.1L992,470.8L990.3,466.4L987.5,461.9L987,457.4Z"/>
<path fill="#afc5de" stroke="#afc5de" stroke-width="1.0" d="M1029.4,458.5L1031.1,455.2L1035,453.5L1040,454.1L1045.6,453.5L1048.9,451.8L1050,453.5L1046.7,456.3L1041.1,456.9L1035.5,456.9L1032.7,459.1L1032.2,462.4L1035.5,464.1L1040,462.4L1042.8,463L1038.9,465.2L1036.6,468L1038.3,471.9L1040.6,476.4L1041.1,479.8L1038.3,479.8L1036.1,475.8L1034.4,470.8L1032.7,468.6L1031.1,473.1L1030.5,478.6L1029.9,483.1L1027.2,483.1L1027.2,477.5L1026,471.9L1025.5,467.5L1027.7,463Z"/>
<path fill="#afc5de" stroke="#afc5de" stroke-width="1.0" d="M973,487.6L976.4,485.3L980.8,486.5L987.5,488.7L993.1,488.1L997.6,489.8L1002,492L1007.6,494.8L1014.3,495.9L1021,497.1L1020.5,498.7L1013.2,498.2L1003.2,497.1L992,495.9L983.1,494.5L977.5,492L974.1,490.4Z"/>
<path fill="#afc5de" stroke="#afc5de" stroke-width="1.0" d="M1060.1,450.7L1061.8,449.6L1062.9,454.1L1061.8,458.5L1060.1,457.4Z"/>
<path fill="#afc5de" stroke="#afc5de" stroke-width="1.0" d="M1047.3,466.4L1052.3,466.4L1052.3,467.5L1047.3,467.5Z"/>
<path fill="#afc5de" stroke="#afc5de" stroke-width="1.0" d="M1025.6,376.7L1029.5,375.6L1032.9,377.2L1034,381.7L1032.3,386.2L1031.2,390.6L1032.9,394.5L1035.7,395.7L1039,396.8L1041.8,399L1040.1,400.1L1036.8,397.9L1033.4,396.8L1030.1,396.2L1028.4,392.9L1025.6,390.1L1025.1,386.2L1026.2,381.7Z"/>
<path fill="#afc5de" stroke="#afc5de" stroke-width="1.0" d="M1029,399L1031.2,398.4L1032.9,401.2L1031.8,403.5L1029.9,401.8Z"/>
<path fill="#afc5de" stroke="#afc5de" stroke-width="1.0" d="M1044.1,402.9L1046.8,402.4L1049.1,405.7L1048.5,408.5L1046.3,406.8L1044.6,404.6Z"/>
<path fill="#afc5de" stroke="#afc5de" stroke-width="1.0" d="M1035.7,406.8L1038.5,406.3L1039.6,409.1L1041.8,410.7L1042.9,414.1L1041.3,416.9L1039.3,417.4L1038.5,414.1L1036.8,410.7Z"/>
<path fill="#afc5de" stroke="#afc5de" stroke-width="1.0" d="M1043.5,408.5L1045.7,407.9L1047.4,411.8L1045.7,413Z"/>
<path fill="#afc5de" stroke="#afc5de" stroke-width="1.0" d="M1036.8,425.2L1039,421.9L1042.4,420.2L1044.6,421.9L1046.8,419.7L1050.2,416.3L1053,419.1L1054.1,424.1L1053,428.6L1050.2,431.9L1047.4,430.3L1045.7,426.4L1042.9,424.1L1039.6,424.7Z"/>
<path fill="#afc5de" stroke="#afc5de" stroke-width="1.0" d="M1017.8,420.2L1021.2,415.8L1025.1,409.6L1026.2,410.2L1022.3,416.9L1018.9,420.8Z"/>
<path fill="#afc5de" stroke="#afc5de" stroke-width="1.0" d="M1072.9,463.4L1076.8,461.2L1081.3,460.7L1085.2,462.3L1085.8,466.2L1083,468.5L1079.1,468.5L1080.2,471.3L1084.1,470.7L1088,471.8L1091.4,473.5L1094.7,470.7L1097.5,467.4L1100.8,465.7L1105.9,467.4L1112,470.1L1111.5,484.7L1110.3,498.1L1107,494.7L1104.2,490.2L1102.5,485.8L1099.2,481.9L1094.7,479.1L1090.2,477.4L1086.9,475.7L1083,474.6L1081.3,476.3L1079.6,472.9L1078,470.1L1076.3,466.2Z"/>
<path fill="#fde0a8" stroke="#fde0a8" stroke-width="1.0" d="M1112,470.1L1118.2,472.4L1123.7,475.7L1128.2,479.1L1131.5,483L1134.9,485.2L1138.2,486.9L1134.9,489.1L1135.5,492.5L1138.2,495.8L1141.6,500.3L1144.9,503.1L1147.7,505.3L1143.8,504.8L1139.4,502.5L1136,499.2L1132.7,495.8L1129.3,493.6L1124.8,493L1121.5,495.3L1119.8,498.6L1115.9,499.2L1110.6,499.2L1111.2,484.7Z"/>
<path fill="#fde0a8" stroke="#fde0a8" stroke-width="1.0" d="M1141.6,484.1L1144.9,483.5L1149.4,483L1153.3,480.8L1156.1,478L1158.3,476.3L1159.5,478.5L1157.2,481.3L1153.9,484.1L1150,485.8L1146.1,486.3L1142.7,485.6Z"/>
<path fill="#fde0a8" stroke="#fde0a8" stroke-width="1.0" d="M1166.2,483.5L1167.8,484.1L1170.1,488L1168.9,489.1L1167.3,486.3Z"/>
<path fill="#afc5de" stroke="#afc5de" stroke-width="1.0" d="M1059.5,451.2L1061.8,450L1063.4,453.4L1062.3,456.7L1061.8,461.2L1060.1,460.7L1060.7,456.7L1059.9,454Z"/>
<path fill="#afc5de" stroke="#afc5de" stroke-width="1.0" d="M1061.2,472.4L1065.7,471.3L1070.1,472.4L1072.4,474.6L1069,474.1L1064.6,473.5L1061.8,473.8Z"/>
<path fill="#afc5de" stroke="#afc5de" stroke-width="1.0" d="M1054,472.9L1056.7,472.4L1057.9,474.6L1055.1,475.5Z"/>
<path fill="#afc5de" stroke="#afc5de" stroke-width="1.0" d="M1042.2,502.5L1045.6,499.7L1050,497.5L1054.5,495.8L1056.7,496.9L1053.4,499.2L1048.9,501.4L1044.5,504.8Z"/>
<path fill="#afc5de" stroke="#afc5de" stroke-width="1.0" d="M1084.7,484.1L1086.3,483L1086.9,485.8L1085.2,489.1Z"/>
<path fill="#afc5de" stroke="#afc5de" stroke-width="1.0" d="M1098.1,494.7L1100.8,491.9L1102.5,493L1100.3,495.8Z"/>
<polyline fill="none" stroke="#fff" stroke-width=".7" points="598.3,192.5 600,186.7 601.7,180 605,173.3 610,167.5 613.3,162.5 620,160.8 626.7,157.5 635,155"/>
<polyline fill="none" stroke="#fff" stroke-width=".7" points="635,174.2 636.7,168.3 635,162.5 635,155 640,156.7 645,153.3 651.7,152.5"/>
</g>
<g class="legend">
<rect x="362" y="59.2" width="56" height="7.6" fill="#c0110d"/>
<rect x="418" y="59.2" width="55.3" height="7.6" fill="#f0443e"/>
<rect x="473.3" y="59.2" width="55" height="7.6" fill="#f8a9a6"/>
<rect x="528.8" y="59.2" width="55" height="7.6" fill="#fbc65f"/>
<rect x="583.7" y="59.2" width="55" height="7.6" fill="#fde0a8"/>
<rect x="639" y="59.2" width="55" height="7.6" fill="#afc5de"/>
<rect x="694" y="59.2" width="55" height="7.6" fill="#7ba0c9"/>
<rect x="749" y="59.2" width="111" height="7.6" fill="#475593"/>
<rect x="527.7" y="53.5" width="1.5" height="13.3" fill="#222"/>
<rect x="637.8" y="53.5" width="1.5" height="13.3" fill="#222"/>
<rect x="748.4" y="53.5" width="1.5" height="13.3" fill="#222"/>
</g>
<g class="lg">
<text x="399.6" y="28.3" textLength="91.8" lengthAdjust="spacingAndGlyphs">Authoritarian</text>
<text x="418.7" y="46.2" textLength="54.6" lengthAdjust="spacingAndGlyphs">regimes</text>
<text x="561" y="28.3" textLength="45.6" lengthAdjust="spacingAndGlyphs">Hybrid</text>
<text x="556.5" y="46.2" textLength="54.6" lengthAdjust="spacingAndGlyphs">regimes</text>
<text x="670.7" y="28.3" textLength="47" lengthAdjust="spacingAndGlyphs">Flawed</text>
<text x="651" y="46.2" textLength="86.5" lengthAdjust="spacingAndGlyphs">democracies</text>
<text x="792.2" y="28.3" textLength="25" lengthAdjust="spacingAndGlyphs">Full</text>
<text x="761.3" y="46.2" textLength="86.5" lengthAdjust="spacingAndGlyphs">democracies</text>
</g>
<g class="lw">
<text x="186.7" y="219.3" textLength="59.3" lengthAdjust="spacingAndGlyphs">CANADA</text>
<text x="139" y="289.3" textLength="104.3" lengthAdjust="spacingAndGlyphs">UNITED STATES</text>
<text x="849.8" y="189.6" textLength="48" lengthAdjust="spacingAndGlyphs">RUSSIA</text>
<text x="917.3" y="307.2" textLength="44.3" lengthAdjust="spacingAndGlyphs">CHINA</text>
<text x="755.6" y="307.2" textLength="98.4" lengthAdjust="spacingAndGlyphs">AFGHANISTAN</text>
<text x="607.8" y="337.5" textLength="37.5" lengthAdjust="spacingAndGlyphs">LIBYA</text>
<text x="1033.1" y="578.9" textLength="75.9" lengthAdjust="spacingAndGlyphs">AUSTRALIA</text>
</g>
<g class="lb">
<text x="585" y="183.7" textLength="59.7" lengthAdjust="spacingAndGlyphs">SWEDEN</text>
<text x="322.7" y="494.4" textLength="48" lengthAdjust="spacingAndGlyphs">BRAZIL</text>
<text x="1089" y="285" textLength="41.3" lengthAdjust="spacingAndGlyphs">JAPAN</text>
<text x="618.1" y="636.5" textLength="64" lengthAdjust="spacingAndGlyphs">S. AFRICA</text>
</g>

</svg></body></html>
